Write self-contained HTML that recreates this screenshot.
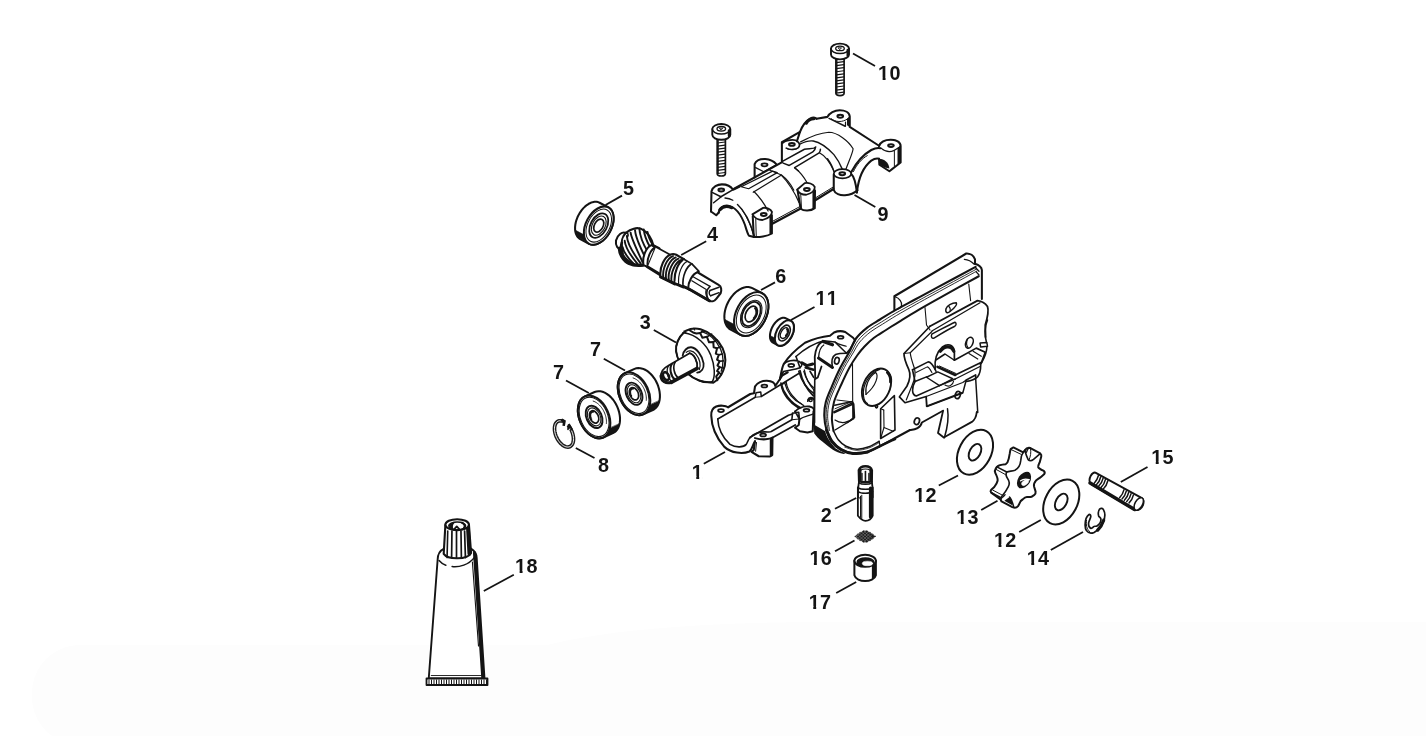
<!DOCTYPE html>
<html lang="en"><head><meta charset="utf-8"><title>Parts diagram</title>
<style>html,body{margin:0;padding:0;background:#fff}body{width:1426px;height:736px;overflow:hidden;position:relative}svg{display:block;position:absolute;left:0;top:0;will-change:transform;filter:blur(0.38px)}.band{position:absolute;left:32px;top:645px;width:1400px;height:100px;background:#fdfdfd;border-radius:48px 0 0 48px}.band2{position:absolute;left:520px;top:622px;width:920px;height:70px;background:#fdfdfd;border-radius:300px 0 0 0/40px 0 0 0}text{font-family:"Liberation Sans",Arial,Helvetica,sans-serif;font-weight:bold;font-size:19.8px;font-kerning:none;letter-spacing:0.3px;fill:#141414}</style></head><body><div class="band"></div><div class="band2"></div>
<svg width="1426" height="736" viewBox="0 0 1426 736">
<g fill="none" stroke="#141414" stroke-width="1.7" stroke-linecap="round" stroke-linejoin="round">
<path d="M835.9,57.6 L835.9,93.1 Q835.9,95.6 840,95.6 Q844.1,95.6 844.1,93.1 L844.1,57.6" fill="#fff" stroke="#141414" stroke-width="1.7" />
<path d="M836.1999999999999,62.6 L843.8000000000001,61.6" fill="none" stroke="#141414" stroke-width="1.25" />
<path d="M836.1999999999999,65.65 L843.8000000000001,64.65" fill="none" stroke="#141414" stroke-width="1.25" />
<path d="M836.1999999999999,68.7 L843.8000000000001,67.7" fill="none" stroke="#141414" stroke-width="1.25" />
<path d="M836.1999999999999,71.75 L843.8000000000001,70.75" fill="none" stroke="#141414" stroke-width="1.25" />
<path d="M836.1999999999999,74.8 L843.8000000000001,73.8" fill="none" stroke="#141414" stroke-width="1.25" />
<path d="M836.1999999999999,77.85 L843.8000000000001,76.85" fill="none" stroke="#141414" stroke-width="1.25" />
<path d="M836.1999999999999,80.9 L843.8000000000001,79.9" fill="none" stroke="#141414" stroke-width="1.25" />
<path d="M836.1999999999999,83.95 L843.8000000000001,82.95" fill="none" stroke="#141414" stroke-width="1.25" />
<path d="M836.1999999999999,87.0 L843.8000000000001,86.0" fill="none" stroke="#141414" stroke-width="1.25" />
<path d="M836.1999999999999,90.05 L843.8000000000001,89.05" fill="none" stroke="#141414" stroke-width="1.25" />
<path d="M836.1999999999999,93.1 L843.8000000000001,92.1" fill="none" stroke="#141414" stroke-width="1.25" />
<path d="M836.8,59.6 L836.8,92.6" fill="none" stroke="#141414" stroke-width="1.4" />
<path d="M831.0,48.6 A9.0,5.0 0 0 1 849.0,48.6 L849.0,54.4 A9.0,5.0 0 0 1 831.0,54.4 Z" fill="#fff" stroke="#141414" stroke-width="1.9" />
<path d="M831.0,48.6 A9.0,5.0 0 0 0 849.0,48.6" fill="none" stroke="#141414" stroke-width="1.5" />
<path d="M847.8,50.1 L847.8,55.6" fill="none" stroke="#141414" stroke-width="2.6" />
<ellipse cx="840.00" cy="48.40" rx="4.30" ry="2.30" transform="rotate(0 840.00 48.40)" fill="none" stroke="#141414" stroke-width="1.3" />
<path d="M838.5,47.800000000000004 L841.5,47.800000000000004 L840,49.5 Z" fill="none" stroke="#141414" stroke-width="0.9" />
<path d="M717.1999999999999,138 L717.1999999999999,173.5 Q717.1999999999999,176.0 721.3,176.0 Q725.4,176.0 725.4,173.5 L725.4,138" fill="#fff" stroke="#141414" stroke-width="1.7" />
<path d="M717.4999999999999,143.0 L725.1,142.0" fill="none" stroke="#141414" stroke-width="1.25" />
<path d="M717.4999999999999,146.05 L725.1,145.05" fill="none" stroke="#141414" stroke-width="1.25" />
<path d="M717.4999999999999,149.1 L725.1,148.1" fill="none" stroke="#141414" stroke-width="1.25" />
<path d="M717.4999999999999,152.15 L725.1,151.15" fill="none" stroke="#141414" stroke-width="1.25" />
<path d="M717.4999999999999,155.2 L725.1,154.2" fill="none" stroke="#141414" stroke-width="1.25" />
<path d="M717.4999999999999,158.25 L725.1,157.25" fill="none" stroke="#141414" stroke-width="1.25" />
<path d="M717.4999999999999,161.3 L725.1,160.3" fill="none" stroke="#141414" stroke-width="1.25" />
<path d="M717.4999999999999,164.35 L725.1,163.35" fill="none" stroke="#141414" stroke-width="1.25" />
<path d="M717.4999999999999,167.4 L725.1,166.4" fill="none" stroke="#141414" stroke-width="1.25" />
<path d="M717.4999999999999,170.45 L725.1,169.45" fill="none" stroke="#141414" stroke-width="1.25" />
<path d="M717.4999999999999,173.5 L725.1,172.5" fill="none" stroke="#141414" stroke-width="1.25" />
<path d="M718.0999999999999,140 L718.0999999999999,173.0" fill="none" stroke="#141414" stroke-width="1.4" />
<path d="M712.3,129 A9.0,5.0 0 0 1 730.3,129 L730.3,134.8 A9.0,5.0 0 0 1 712.3,134.8 Z" fill="#fff" stroke="#141414" stroke-width="1.9" />
<path d="M712.3,129 A9.0,5.0 0 0 0 730.3,129" fill="none" stroke="#141414" stroke-width="1.5" />
<path d="M729.0999999999999,130.5 L729.0999999999999,136.0" fill="none" stroke="#141414" stroke-width="2.6" />
<ellipse cx="721.30" cy="128.80" rx="4.30" ry="2.30" transform="rotate(0 721.30 128.80)" fill="none" stroke="#141414" stroke-width="1.3" />
<path d="M719.8,128.2 L722.8,128.2 L721.3,129.9 Z" fill="none" stroke="#141414" stroke-width="0.9" />
<path d="M 781.88,161.25 L 781.88,142.25 L 800.00,131.88 L 796.88,141.25" fill="none" stroke="#141414" stroke-width="2.05" />
<path d="M 800.00,131.88 C 801.88,126.88 805.62,121.25 810.00,118.75 C 812.50,117.25 815.25,117.25 816.50,118.75" fill="none" stroke="#141414" stroke-width="2.05" />
<path d="M 806.25,123.12 C 807.75,120.62 810.62,118.75 813.75,118.75" fill="none" stroke="#141414" stroke-width="3.2" />
<ellipse cx="791.88" cy="144.38" rx="2.88" ry="1.44" transform="rotate(0 791.88 144.38)" fill="none" stroke="#141414" stroke-width="1.9"/>
<path d="M 782.75,143.12 C 785.00,139.75 795.00,139.00 797.25,141.25 C 800.00,143.12 800.00,145.62 798.50,147.50 C 796.25,149.75 790.00,150.25 786.25,148.12" fill="none" stroke="#141414" stroke-width="1.7" />
<path d="M 787.50,149.00 C 791.25,150.25 795.62,149.75 798.12,148.12" fill="none" stroke="#141414" stroke-width="1.0" />
<path d="M 816.50,118.75 L 827.50,116.88 C 829.38,113.12 834.38,110.25 839.75,110.25 C 845.00,110.25 849.38,112.50 849.75,116.50 L 849.75,126.88 L 879.00,145.75" fill="none" stroke="#141414" stroke-width="2.05" />
<ellipse cx="840.25" cy="116.25" rx="2.88" ry="1.44" transform="rotate(0 840.25 116.25)" fill="none" stroke="#141414" stroke-width="1.9"/>
<path d="M 847.00,118.75 L 849.75,116.00 L 849.75,126.88 L 847.00,125.25 Z" fill="#141414" stroke="none"/>
<path d="M 829.00,118.38 L 845.25,126.25" fill="none" stroke="#141414" stroke-width="1.4" />
<path d="M 845.50,122.00 L 845.50,126.00" fill="none" stroke="#141414" stroke-width="1.2" />
<path d="M 831.25,118.75 C 835.00,122.25 842.50,122.75 847.75,118.75" fill="none" stroke="#141414" stroke-width="1.0" />
<path d="M 879.00,146.00 C 880.62,141.88 885.62,139.75 890.62,139.75 C 896.25,139.75 900.62,142.25 900.62,146.00 L 900.62,162.50 L 889.38,171.25 L 879.38,164.75 L 879.00,158.75" fill="none" stroke="#141414" stroke-width="2.05" />
<ellipse cx="891.00" cy="145.62" rx="2.88" ry="1.44" transform="rotate(0 891.00 145.62)" fill="none" stroke="#141414" stroke-width="1.9"/>
<path d="M 897.50,148.12 L 900.62,145.62 L 900.62,162.50 L 897.50,165.00 Z" fill="#141414" stroke="none"/>
<path d="M 881.00,148.12 C 885.00,151.50 890.00,152.75 894.38,150.25 L 900.00,146.88" fill="none" stroke="#141414" stroke-width="1.2" />
<path d="M 894.38,150.25 L 894.38,167.50" fill="none" stroke="#141414" stroke-width="1.0" />
<path d="M 879.00,158.75 C 883.75,158.50 889.00,162.50 889.38,168.50 L 884.75,167.50 L 879.50,164.38 Z" fill="#141414" stroke="none"/>
<path d="M 856.88,192.50 C 858.12,181.25 862.50,167.50 871.25,160.62 C 874.38,158.50 876.88,158.12 879.00,158.75" fill="none" stroke="#141414" stroke-width="2.05" />
<path d="M 851.00,172.50 C 855.00,165.00 862.50,155.00 871.25,150.00 C 875.00,148.12 877.50,147.50 880.50,148.25" fill="none" stroke="#141414" stroke-width="2.05" />
<path d="M 853.50,171.50 C 856.50,165.00 861.50,158.75 867.25,155.62" fill="none" stroke="#141414" stroke-width="1.0" />
<path d="M 800.62,141.88 C 808.75,137.50 821.25,132.75 828.75,132.25 C 837.50,132.25 848.75,141.25 853.12,148.75 C 852.50,153.75 848.75,161.25 846.00,169.00" fill="none" stroke="#141414" stroke-width="1.2" />
<path d="M 799.79,144.23 C 804.45,141.87 809.36,140.40 813.29,140.99 C 819.18,142.12 826.54,146.78 833.91,154.64 C 837.83,159.54 840.78,165.43 842.50,169.61" fill="none" stroke="#141414" stroke-width="1.4" />
<path d="M 827.50,158.75 C 830.62,163.12 833.12,168.12 834.00,171.88" fill="none" stroke="#141414" stroke-width="1.3" />
<ellipse cx="842.50" cy="173.75" rx="8.75" ry="4.62" transform="rotate(0 842.50 173.75)" fill="#fff" stroke="#141414" stroke-width="1.6"/>
<ellipse cx="842.25" cy="173.75" rx="2.88" ry="1.44" transform="rotate(0 842.25 173.75)" fill="none" stroke="#141414" stroke-width="1.9"/>
<path d="M 833.75,174.38 L 833.75,190.00 C 835.00,193.75 840.00,195.62 845.00,195.25 C 851.25,194.75 855.00,192.50 857.50,190.25" fill="none" stroke="#141414" stroke-width="2.05" />
<path d="M 851.25,174.00 C 853.75,176.25 855.62,181.25 856.88,192.50" fill="none" stroke="#141414" stroke-width="2.05" />
<path d="M 734.13,188.75 L 782.17,162.04" fill="none" stroke="#141414" stroke-width="2.05" />
<path d="M 741.20,186.77 L 772.64,171.09 L 777.23,172.64 L 748.61,188.75 Z" fill="none" stroke="#141414" stroke-width="1.2" />
<path d="M 753.21,192.28 L 781.47,174.97" fill="none" stroke="#141414" stroke-width="1.3" />
<path d="M 769.46,170.03 L 781.47,174.97 C 785.71,178.15 790.65,183.80 793.83,190.16" fill="none" stroke="#141414" stroke-width="1.2" />
<path d="M 782.85,161.12 L 804.45,149.24 C 807.40,148.25 811.33,148.99 813.78,148.16 C 814.76,147.76 815.35,147.27 815.65,146.93 C 815.55,148.50 815.01,149.97 812.80,151.94 L 789.24,165.43 L 783.10,163.08" fill="none" stroke="#141414" stroke-width="1.5" />
<path d="M 794.64,167.64 L 819.18,152.92 C 819.92,151.94 820.41,150.71 820.41,149.24" fill="none" stroke="#141414" stroke-width="1.5" />
<path d="M 794.64,167.64 L 798.56,171.08" fill="none" stroke="#141414" stroke-width="1.3" />
<path d="M 819.42,152.77 C 824.09,155.13 829.98,162.49 833.91,171.08" fill="none" stroke="#141414" stroke-width="1.3" />
<path d="M 794.89,167.91 C 799.84,171.79 804.78,178.15 807.26,183.10" fill="none" stroke="#141414" stroke-width="1.2" />
<path d="M 754.62,177.45 L 754.62,164.02 C 756.03,160.49 760.27,158.93 765.22,159.08 C 770.16,159.43 773.70,161.20 776.52,164.38" fill="none" stroke="#141414" stroke-width="2.05" />
<path d="M 755.68,167.55 L 763.80,171.79 L 776.17,164.73" fill="none" stroke="#141414" stroke-width="1.3" />
<ellipse cx="764.51" cy="164.87" rx="2.97" ry="1.48" transform="rotate(0 764.51 164.87)" fill="none" stroke="#141414" stroke-width="1.9"/>
<path d="M 711.00,211.50 L 711.50,191.25 C 712.50,186.88 717.50,184.38 721.88,184.38 C 726.88,184.38 731.25,186.88 733.00,189.75 L 739.75,186.50" fill="none" stroke="#141414" stroke-width="2.05" />
<ellipse cx="721.25" cy="190.00" rx="2.88" ry="1.44" transform="rotate(0 721.25 190.00)" fill="none" stroke="#141414" stroke-width="1.9"/>
<path d="M 712.62,192.62 L 720.88,196.75 L 732.25,190.12" fill="none" stroke="#141414" stroke-width="1.5" />
<path d="M 720.88,197.00 L 713.62,202.75" fill="none" stroke="#141414" stroke-width="1.5" />
<path d="M 711.00,211.50 L 716.25,215.25 L 718.75,212.50" fill="none" stroke="#141414" stroke-width="2.05" />
<path d="M 737.50,204.50 C 743.75,210.00 750.00,221.25 754.38,236.25" fill="none" stroke="#141414" stroke-width="1.5" />
<path d="M 725.00,198.00 C 728.12,198.25 730.62,199.00 732.88,200.25" fill="none" stroke="#141414" stroke-width="1.3" />
<path d="M 741.25,208.75 C 746.88,216.25 751.25,226.25 753.50,235.25" fill="none" stroke="#141414" stroke-width="1.0" />
<path d="M 718.75,212.75 C 718.75,208.12 723.12,205.00 728.12,205.62 C 735.00,206.88 741.25,215.00 745.00,225.00 C 746.50,230.00 747.50,233.75 749.00,235.75 L 754.00,237.00" fill="none" stroke="#141414" stroke-width="2.0" />
<path d="M 720.00,209.75 C 722.50,206.50 726.88,205.62 731.88,207.75" fill="none" stroke="#141414" stroke-width="3.0" />
<path d="M 752.38,214.38 L 763.12,207.88 C 766.25,207.25 770.62,209.00 772.00,211.88 C 771.88,215.62 769.38,218.12 762.50,220.00 C 758.75,220.00 755.00,218.75 752.38,214.38 Z" fill="#fff" stroke="#141414" stroke-width="1.8" />
<ellipse cx="763.75" cy="214.50" rx="2.88" ry="1.44" transform="rotate(0 763.75 214.50)" fill="none" stroke="#141414" stroke-width="1.9"/>
<path d="M 752.75,216.25 L 753.75,236.88 C 758.75,237.50 767.50,236.25 771.88,233.50 L 771.88,215.25" fill="none" stroke="#141414" stroke-width="2.05" />
<path d="M 755.75,218.75 L 756.25,236.25" fill="none" stroke="#141414" stroke-width="1.0" />
<path d="M 770.75,217.50 L 770.75,233.12" fill="none" stroke="#141414" stroke-width="2.6" />
<path d="M 754.00,191.50 C 758.75,196.25 764.38,203.75 768.12,211.00" fill="none" stroke="#141414" stroke-width="1.2" />
<path d="M 772.25,223.75 L 800.25,208.75" fill="none" stroke="#141414" stroke-width="2.2" />
<path d="M 772.25,221.50 L 800.00,206.50" fill="none" stroke="#141414" stroke-width="1.0" />
<path d="M 781.88,175.88 C 787.50,181.25 795.00,192.50 799.00,202.50" fill="none" stroke="#141414" stroke-width="1.2" />
<path d="M 797.00,189.75 L 804.75,183.12 C 808.12,182.25 813.12,183.75 814.75,186.88 C 815.00,190.62 812.50,193.12 806.25,194.75 C 801.88,194.75 798.75,193.12 797.00,189.75 Z" fill="#fff" stroke="#141414" stroke-width="1.8" />
<ellipse cx="806.88" cy="189.50" rx="2.88" ry="1.44" transform="rotate(0 806.88 189.50)" fill="none" stroke="#141414" stroke-width="1.9"/>
<path d="M 797.75,191.25 L 800.62,208.75 C 803.75,211.25 810.62,211.25 814.75,208.12 L 815.00,190.62" fill="none" stroke="#141414" stroke-width="2.05" />
<path d="M 800.75,194.00 L 801.50,208.75" fill="none" stroke="#141414" stroke-width="1.0" />
<path d="M 813.75,192.50 L 813.75,207.75" fill="none" stroke="#141414" stroke-width="2.6" />
<path d="M 815.25,200.25 L 833.50,189.00" fill="none" stroke="#141414" stroke-width="2.2" />
<path d="M 815.25,198.00 L 833.25,187.00" fill="none" stroke="#141414" stroke-width="1.0" />
<path d="M 728.12,407.25 C 725.62,405.62 720.00,405.00 716.25,406.50 C 712.50,408.12 711.00,411.88 711.25,415.62 C 711.50,425.00 715.00,436.25 724.38,446.88 C 731.25,453.12 742.50,454.38 749.38,451.50 C 751.88,450.00 752.50,445.00 755.00,441.25" fill="none" stroke="#141414" stroke-width="2.05" />
<path d="M 717.75,419.00 C 718.12,427.50 721.88,436.88 730.00,444.38 C 736.25,448.12 743.75,447.25 746.25,444.38 C 747.50,442.50 748.12,439.38 750.25,437.50" fill="none" stroke="#141414" stroke-width="1.6" />
<ellipse cx="721.00" cy="410.62" rx="2.88" ry="1.44" transform="rotate(0 721.00 410.62)" fill="none" stroke="#141414" stroke-width="1.8"/>
<path d="M 728.12,407.25 L 750.25,394.00 L 754.00,393.25 L 755.00,386.50 C 756.88,382.50 762.50,380.62 766.88,380.75 C 771.88,381.00 775.00,383.12 775.25,386.00 L 782.50,375.25 L 787.75,372.25" fill="none" stroke="#141414" stroke-width="2.05" />
<path d="M 717.75,419.00 L 755.25,397.25 L 756.00,392.75 L 760.75,392.00 L 761.25,396.50 L 800.00,372.75" fill="none" stroke="#141414" stroke-width="1.5" />
<path d="M 755.25,397.25 L 760.75,396.75" fill="none" stroke="#141414" stroke-width="1.2" />
<ellipse cx="764.38" cy="386.00" rx="2.88" ry="1.44" transform="rotate(0 764.38 386.00)" fill="none" stroke="#141414" stroke-width="1.8"/>
<path d="M 750.25,437.50 C 753.75,433.75 760.00,431.88 765.00,431.88 C 768.12,431.88 770.25,432.50 771.25,431.50 L 791.88,419.75 L 792.50,413.12 L 798.75,412.25 L 799.38,419.00 L 795.00,411.25" fill="none" stroke="#141414" stroke-width="1.6" />
<path d="M 795.00,411.50 C 798.75,407.50 805.00,406.00 809.38,406.50 C 812.50,407.00 814.00,408.50 814.00,410.62" fill="none" stroke="#141414" stroke-width="1.8" />
<path d="M 791.88,419.75 L 799.00,419.00" fill="none" stroke="#141414" stroke-width="1.2" />
<path d="M 749.75,437.50 L 788.50,415.25 L 792.50,414.00" fill="none" stroke="#141414" stroke-width="1.8" />
<ellipse cx="763.12" cy="435.00" rx="2.88" ry="1.44" transform="rotate(0 763.12 435.00)" fill="none" stroke="#141414" stroke-width="1.8"/>
<ellipse cx="806.50" cy="410.25" rx="2.88" ry="1.44" transform="rotate(0 806.50 410.25)" fill="none" stroke="#141414" stroke-width="1.8"/>
<path d="M 772.75,437.50 L 795.25,425.00" fill="none" stroke="#141414" stroke-width="1.8" />
<path d="M 755.00,441.25 L 753.75,450.00 L 751.50,451.88 L 758.75,456.25 L 770.00,456.50 L 772.25,455.00 L 772.50,437.50 C 770.00,439.38 762.50,440.25 755.00,438.12" fill="none" stroke="#141414" stroke-width="2.05" />
<path d="M 771.25,440.00 L 771.25,455.00" fill="none" stroke="#141414" stroke-width="3.0" />
<path d="M 756.50,442.50 L 755.62,451.25" fill="none" stroke="#141414" stroke-width="1.0" />
<path d="M 799.38,419.38 L 798.75,425.00 L 795.00,427.75 L 800.00,431.25 L 807.50,432.50 L 812.75,431.25 L 813.50,411.25" fill="none" stroke="#141414" stroke-width="2.05" />
<path d="M 799.38,419.38 C 803.75,416.25 810.00,415.62 813.50,413.75" fill="none" stroke="#141414" stroke-width="1.4" />
<path d="M 781.25,384.75 C 782.50,393.75 790.00,403.12 799.00,408.12" fill="none" stroke="#141414" stroke-width="1.8" />
<path d="M 786.25,382.50 C 787.50,391.25 795.00,400.62 803.75,405.62" fill="none" stroke="#141414" stroke-width="1.3" />
<path d="M 781.25,384.75 L 786.25,382.50" fill="none" stroke="#141414" stroke-width="1.3" />
<path d="M 800.00,370.62 C 801.88,380.00 806.25,388.75 813.12,395.62" fill="none" stroke="#141414" stroke-width="1.8" />
<path d="M 804.38,370.00 C 805.62,377.50 809.38,385.00 814.00,390.00" fill="none" stroke="#141414" stroke-width="1.3" />
<path d="M 807.75,401.25 C 808.50,398.12 811.88,397.50 813.50,399.38" fill="none" stroke="#141414" stroke-width="1.6" />
<ellipse cx="810.62" cy="400.25" rx="1.50" ry="1.25" transform="rotate(0 810.62 400.25)" fill="none" stroke="#141414" stroke-width="1.4"/>
<path d="M 814.00,390.00 L 814.38,425.00" fill="none" stroke="#141414" stroke-width="1.5" />
<path d="M 813.90,424.43 L 825.27,431.34 C 826.11,435.38 827.80,439.59 835.38,448.18 C 838.75,450.54 842.12,452.06 845.91,452.90 L 843.80,454.08 C 839.59,453.24 835.38,451.55 832.85,449.70 C 826.96,445.49 816.85,437.91 814.15,433.27 Z" fill="#141414" stroke="none"/>
<path d="M975.60,266.90 C969.32,270.28 948.00,281.77 937.90,287.20 C927.80,292.63 922.30,295.57 915.00,299.50 C907.70,303.43 899.93,307.47 894.10,310.80 C888.27,314.13 884.48,316.70 880.00,319.50 C875.52,322.30 871.20,324.43 867.20,327.60 C863.20,330.77 858.95,334.52 856.00,338.50 C853.05,342.48 852.12,346.62 849.50,351.50 C846.88,356.38 843.23,362.00 840.30,367.80 C837.37,373.60 834.32,380.60 831.90,386.30 C829.48,392.00 827.07,397.05 825.80,402.00 C824.53,406.95 824.18,411.33 824.30,416.00 C824.42,420.67 825.22,425.75 826.50,430.00 C827.78,434.25 829.58,438.25 832.00,441.50 C834.42,444.75 837.50,447.50 841.00,449.50 C844.50,451.50 848.58,453.08 853.00,453.50 C857.42,453.92 863.00,453.22 867.50,452.00 C872.00,450.78 877.92,447.17 880.00,446.20 L910,430" fill="none" stroke="#141414" stroke-width="2.1" />
<path d="M978.75,276.25 C972.62,279.64 951.96,291.04 942.00,296.60 C932.04,302.16 926.17,305.40 919.00,309.60 C911.83,313.80 904.50,318.40 899.00,321.80 C893.50,325.20 890.17,327.33 886.00,330.00 C881.83,332.67 877.58,335.05 874.00,337.80 C870.42,340.55 867.25,343.63 864.50,346.50 C861.75,349.37 860.00,351.50 857.50,355.00 C855.00,358.50 852.20,362.58 849.50,367.50 C846.80,372.42 843.88,378.75 841.30,384.50 C838.72,390.25 835.57,396.42 834.00,402.00 C832.43,407.58 831.98,413.17 831.90,418.00 C831.82,422.83 833.23,428.83 833.50,431.00" fill="none" stroke="#141414" stroke-width="2.0" />
<path d="M833.50,431.00 C834.33,432.50 836.42,437.45 838.50,440.00 C840.58,442.55 842.92,444.77 846.00,446.30 C849.08,447.83 853.17,449.12 857.00,449.20 C860.83,449.28 865.30,448.12 869.00,446.80 C872.70,445.48 877.50,442.22 879.20,441.30" fill="none" stroke="#141414" stroke-width="1.6" />
<path d="M976.36,269.14 C970.11,272.53 948.95,283.99 938.88,289.46 C928.82,294.92 923.23,297.93 915.96,301.92 C908.69,305.92 901.03,310.09 895.28,313.44 C889.52,316.79 885.85,319.25 881.44,322.02 C877.03,324.79 872.73,326.98 868.83,330.05 C864.93,333.11 860.94,336.70 858.04,340.42 C855.14,344.14 854.01,347.79 851.42,352.34 C848.83,356.89 845.39,362.14 842.51,367.73 C839.63,373.32 836.61,380.16 834.16,385.87 C831.70,391.58 829.11,396.90 827.77,402.00 C826.43,407.10 826.06,411.77 826.12,416.48 C826.19,421.19 827.84,427.95 828.18,430.24" fill="none" stroke="#141414" stroke-width="0.9" />
<path d="M976.99,271.01 C970.77,274.40 949.74,285.85 939.70,291.34 C929.67,296.82 924.00,299.89 916.76,303.94 C909.52,307.99 901.94,312.28 896.26,315.64 C890.57,319.00 886.98,321.38 882.64,324.12 C878.30,326.86 874.01,329.10 870.19,332.09 C866.38,335.07 862.60,338.53 859.74,342.02 C856.88,345.51 855.59,348.77 853.02,353.04 C850.45,357.31 847.18,362.26 844.35,367.67 C841.52,373.08 838.53,379.79 836.04,385.51 C833.55,391.23 830.81,396.77 829.41,402.00 C828.01,407.23 827.62,412.14 827.64,416.88 C827.67,421.62 829.26,428.18 829.58,430.44" fill="none" stroke="#141414" stroke-width="0.9" />
<path d="M844.75,447.10 C846.62,447.63 852.02,450.11 856.00,450.27 C859.98,450.44 864.73,449.39 868.62,448.10 C872.52,446.81 877.60,443.45 879.40,442.52" fill="none" stroke="#141414" stroke-width="0.8" />
<path d="M879.2,441.3 L880,446.2" fill="none" stroke="#141414" stroke-width="1.2" />
<path d="M826.50,430.00 C827.42,431.92 829.58,438.25 832.00,441.50 C834.42,444.75 837.50,447.50 841.00,449.50 C844.50,451.50 848.58,453.08 853.00,453.50 C857.42,453.92 865.08,452.25 867.50,452.00" fill="none" stroke="#141414" stroke-width="3.0" />
<path d="M867.50,452.00 C869.58,451.03 877.92,447.17 880.00,446.20 L895,439" fill="none" stroke="#141414" stroke-width="2.5" />
<path d="M 894.38,310.00 L 894.38,296.25 L 966.25,253.50 C 970.00,253.25 973.75,255.62 975.00,259.38 L 975.00,264.00" fill="none" stroke="#141414" stroke-width="2.05" />
<path d="M 895.00,296.75 C 899.38,298.12 902.25,301.88 901.50,305.62 C 901.00,308.12 898.12,309.38 895.00,310.00" fill="none" stroke="#141414" stroke-width="1.3" />
<path d="M 964.38,259.38 C 968.12,259.75 971.88,261.88 974.00,264.00" fill="none" stroke="#141414" stroke-width="1.3" />
<path d="M 975.00,263.75 C 978.75,265.00 981.50,266.88 981.88,270.00 L 981.88,299.00" fill="none" stroke="#141414" stroke-width="2.05" />
<path d="M 975.38,267.50 L 979.00,271.25 M 976.25,271.88 L 979.00,275.00" fill="none" stroke="#141414" stroke-width="1.3" />
<path d="M 925.00,307.50 L 926.50,325.00 L 930.00,330.00" fill="none" stroke="#141414" stroke-width="1.1" />
<path d="M 968.75,284.00 L 970.62,300.62" fill="none" stroke="#141414" stroke-width="1.1" />
<path d="M 946.00,308.75 C 946.88,305.62 951.88,302.75 956.25,302.75 C 957.75,304.75 954.38,308.12 950.00,311.50 C 947.75,313.50 945.00,313.12 946.00,308.75 Z" fill="none" stroke="#141414" stroke-width="1.5" />
<path d="M 948.75,306.25 C 950.00,307.50 950.62,309.38 950.00,311.25" fill="none" stroke="#141414" stroke-width="1.1" />
<path d="M 930.00,326.25 L 977.50,300.62 C 981.25,301.00 985.62,303.75 987.50,306.50 C 988.75,310.00 987.50,317.50 985.25,325.00 L 985.62,337.00" fill="none" stroke="#141414" stroke-width="1.8" />
<path d="M 931.88,331.00 L 980.00,302.75" fill="none" stroke="#141414" stroke-width="1.3" />
<path d="M 931.88,334.00 C 937.50,331.25 948.75,325.00 955.00,322.25 C 956.88,323.12 956.25,325.62 954.38,326.50 C 948.75,329.00 940.00,334.38 934.00,338.12 C 931.88,338.75 930.62,336.88 931.88,334.00 Z" fill="none" stroke="#141414" stroke-width="1.4" />
<path d="M 930.00,326.25 L 904.00,353.50 C 903.75,357.50 905.62,362.50 908.75,369.38 C 911.25,375.00 910.00,380.00 906.88,386.25 L 899.38,396.88 L 905.00,402.75 L 926.25,396.50" fill="none" stroke="#141414" stroke-width="1.7" />
<path d="M 931.88,331.50 L 910.25,352.75 C 910.62,357.50 912.25,361.88 914.38,368.12 C 916.00,373.75 915.00,378.75 912.25,385.00 L 906.25,400.00" fill="none" stroke="#141414" stroke-width="1.2" />
<path d="M 904.00,353.50 L 910.25,352.75" fill="none" stroke="#141414" stroke-width="1.1" />
<path d="M 987.50,320.00 C 984.38,327.50 984.38,335.00 986.50,342.50" fill="none" stroke="#141414" stroke-width="1.5" />
<path d="M 980.00,343.12 L 986.88,342.50 L 987.50,346.25 L 980.62,346.88 Z" fill="none" stroke="#141414" stroke-width="1.5" />
<path d="M 986.88,346.88 C 986.88,353.75 983.75,358.75 980.75,364.38 C 980.75,370.00 980.00,373.75 977.50,376.88 C 975.00,379.38 970.00,381.00 966.75,381.38" fill="none" stroke="#141414" stroke-width="1.6" />
<ellipse cx="969.38" cy="342.75" rx="3.50" ry="5.75" transform="rotate(22 969.38 342.75)" fill="none" stroke="#141414" stroke-width="1.6"/>
<path d="M 967.50,338.75 C 966.25,341.88 966.50,345.62 968.12,347.75" fill="none" stroke="#141414" stroke-width="1.2" />
<path d="M 935.25,369.38 C 934.38,361.25 936.25,352.50 942.50,346.88 C 947.50,343.12 953.12,344.38 954.38,350.62 L 954.38,360.25 L 976.25,348.12 L 985.25,352.25 L 981.50,362.25 L 955.25,375.00" fill="none" stroke="#141414" stroke-width="1.7" />
<path d="M 940.25,351.25 C 944.38,345.62 951.25,345.00 953.75,351.25" fill="none" stroke="#141414" stroke-width="3.2" />
<path d="M 936.25,359.75 L 945.00,354.00 L 954.38,360.25" fill="none" stroke="#141414" stroke-width="1.5" />
<path d="M 937.50,366.88 L 955.25,375.00" fill="none" stroke="#141414" stroke-width="2.6" />
<path d="M 939.38,366.00 L 956.00,373.50" fill="none" stroke="#141414" stroke-width="1.0" />
<path d="M 969.00,353.50 L 977.75,359.00 M 973.12,351.25 L 981.25,356.25" fill="none" stroke="#141414" stroke-width="1.2" />
<path d="M 981.50,362.25 L 980.00,364.00" fill="none" stroke="#141414" stroke-width="1.4" />
<path d="M 955.25,379.00 L 980.00,366.50" fill="none" stroke="#141414" stroke-width="1.4" />
<path d="M 912.50,369.75 L 928.12,361.88 C 930.62,361.88 933.12,365.00 936.00,371.25" fill="none" stroke="#141414" stroke-width="1.6" />
<path d="M 912.50,369.75 L 915.00,381.50 L 926.50,376.88" fill="none" stroke="#141414" stroke-width="1.6" />
<path d="M 916.00,372.50 L 927.25,366.88 C 928.75,367.25 930.25,369.38 931.88,372.50" fill="none" stroke="#141414" stroke-width="1.1" />
<path d="M 926.50,377.25 L 937.75,371.88 L 952.75,378.75 L 939.50,385.62 Z" fill="none" stroke="#141414" stroke-width="1.4" />
<path d="M 915.00,381.50 C 911.88,386.88 911.25,395.00 916.25,396.00 L 939.50,385.62" fill="none" stroke="#141414" stroke-width="1.6" />
<path d="M 939.50,385.62 L 955.25,379.00" fill="none" stroke="#141414" stroke-width="1.5" />
<path d="M 945.00,385.00 C 948.75,387.50 953.12,385.00 953.50,381.25" fill="none" stroke="#141414" stroke-width="1.2" />
<ellipse cx="957.75" cy="395.00" rx="2.50" ry="3.75" transform="rotate(20 957.75 395.00)" fill="none" stroke="#141414" stroke-width="1.6"/>
<path d="M 926.25,396.50 L 926.88,406.50 L 962.75,393.12 L 966.25,380.00 L 975.62,375.00" fill="none" stroke="#141414" stroke-width="1.5" />
<path d="M 926.25,396.50 L 962.75,382.50 L 966.25,380.00" fill="none" stroke="#141414" stroke-width="1.3" />
<path d="M 975.62,375.00 L 975.62,377.75 L 977.75,412.50" fill="none" stroke="#141414" stroke-width="1.5" />
<ellipse cx="876.50" cy="387.25" rx="13.25" ry="19.75" transform="rotate(25 876.50 387.25)" fill="none" stroke="#141414" stroke-width="1.9"/>
<path d="M 879.75,369.38 C 870.00,372.50 861.88,385.00 863.50,396.25 C 864.00,400.00 865.62,402.50 867.50,403.50" fill="none" stroke="#141414" stroke-width="1.3" />
<path d="M 875.62,372.50 C 868.75,376.88 864.75,386.25 866.00,394.38" fill="none" stroke="#141414" stroke-width="1.2" />
<path d="M 875.62,372.50 C 878.75,375.00 876.88,385.00 866.00,394.38" fill="none" stroke="#141414" stroke-width="1.2" />
<path d="M 887.50,372.50 C 890.00,375.00 891.00,378.12 890.62,381.88" fill="none" stroke="#141414" stroke-width="3.0" />
<ellipse cx="876.50" cy="406.50" rx="1.00" ry="1.25" transform="rotate(0 876.50 406.50)" fill="none" stroke="#141414" stroke-width="1.4"/>
<path d="M 780.00,379.38 C 781.25,372.50 781.88,367.50 783.75,364.00 C 787.50,358.12 795.00,350.00 805.00,342.75 C 813.75,338.75 822.50,336.50 830.00,335.75 L 834.00,332.50 C 837.50,331.00 842.50,331.00 845.25,332.00 L 853.12,337.75 L 855.00,340.25" fill="none" stroke="#141414" stroke-width="2.05" />
<ellipse cx="840.62" cy="337.25" rx="2.88" ry="1.44" transform="rotate(0 840.62 337.25)" fill="none" stroke="#141414" stroke-width="1.8"/>
<path d="M 796.00,356.50 C 802.50,350.62 812.50,343.75 823.75,340.75 L 835.00,342.00 L 846.50,353.25 L 850.25,348.75 L 854.75,341.25" fill="none" stroke="#141414" stroke-width="1.6" />
<path d="M 835.00,342.00 C 838.75,345.00 842.50,345.00 846.25,346.25" fill="none" stroke="#141414" stroke-width="1.1" />
<path d="M 783.75,364.00 C 786.25,360.62 793.75,359.50 798.75,361.25 C 801.88,362.50 803.12,365.00 800.00,367.75 L 796.00,356.50" fill="none" stroke="#141414" stroke-width="1.6" />
<ellipse cx="791.25" cy="365.38" rx="2.88" ry="1.44" transform="rotate(0 791.25 365.38)" fill="none" stroke="#141414" stroke-width="1.8"/>
<path d="M 800.00,367.75 C 795.00,369.75 787.50,370.25 783.50,371.50 L 780.00,377.75" fill="none" stroke="#141414" stroke-width="1.6" />
<path d="M 821.88,341.88 C 818.12,343.75 815.62,348.75 814.75,356.88 L 815.25,379.00 L 817.75,377.50 L 821.50,366.50" fill="none" stroke="#141414" stroke-width="1.8" />
<path d="M 823.75,345.00 C 820.62,346.88 819.00,350.62 818.50,357.75" fill="none" stroke="#141414" stroke-width="1.3" />
<path d="M 818.50,358.00 L 832.50,367.50" fill="none" stroke="#141414" stroke-width="3.0" />
<path d="M 832.50,367.50 C 831.25,361.25 832.50,356.25 835.62,354.50 C 838.75,353.25 843.12,353.25 846.50,353.25" fill="none" stroke="#141414" stroke-width="1.6" />
<ellipse cx="836.88" cy="360.75" rx="2.25" ry="3.38" transform="rotate(15 836.88 360.75)" fill="none" stroke="#141414" stroke-width="1.6"/>
<path d="M 801.88,362.75 L 806.88,365.62 L 812.75,364.00" fill="none" stroke="#141414" stroke-width="3.0" />
<path d="M 805.62,367.50 L 813.50,369.75" fill="none" stroke="#141414" stroke-width="2.4" />
<path d="M 823.12,341.50 L 832.50,344.75" fill="none" stroke="#141414" stroke-width="3.2" />
<path d="M 810.00,371.25 L 813.75,377.50" fill="none" stroke="#141414" stroke-width="1.6" />
<path d="M 781.00,383.12 C 783.12,392.50 790.00,402.50 800.62,407.75" fill="none" stroke="#141414" stroke-width="1.8" />
<path d="M 785.00,383.75 C 786.88,391.25 792.50,399.38 801.25,403.75" fill="none" stroke="#141414" stroke-width="1.2" />
<path d="M 798.75,371.25 C 801.25,380.00 806.88,388.75 813.50,393.12" fill="none" stroke="#141414" stroke-width="1.5" />
<path d="M 803.75,371.25 C 805.62,378.12 810.00,385.00 814.38,388.12" fill="none" stroke="#141414" stroke-width="1.2" />
<path d="M 807.75,400.00 C 809.00,396.88 812.25,396.88 813.50,399.00" fill="none" stroke="#141414" stroke-width="1.5" />
<path d="M 814.75,379.00 L 814.50,422.50" fill="none" stroke="#141414" stroke-width="1.6" />
<path d="M 852.50,363.75 L 852.75,417.50" fill="none" stroke="#141414" stroke-width="1.1" />
<path d="M 834.75,405.25 L 852.50,401.50" fill="none" stroke="#141414" stroke-width="1.4" />
<path d="M 834.00,412.75 L 853.75,403.75 L 854.50,417.50 L 847.50,422.50" fill="none" stroke="#141414" stroke-width="1.5" />
<path d="M 836.88,400.00 L 852.50,401.88" fill="none" stroke="#141414" stroke-width="1.0" />
<path d="M 910.00,430.00 C 913.12,429.75 915.00,429.75 917.50,428.12 C 920.25,426.50 921.50,424.38 921.88,422.50 L 942.50,411.00" fill="none" stroke="#141414" stroke-width="1.9" />
<ellipse cx="916.88" cy="421.25" rx="2.50" ry="3.38" transform="rotate(20 916.88 421.25)" fill="none" stroke="#141414" stroke-width="1.7"/>
<path d="M 943.12,410.62 L 938.00,433.00 L 943.75,437.50 L 971.88,421.88 C 974.75,420.00 976.25,416.88 976.75,412.00" fill="none" stroke="#141414" stroke-width="1.8" />
<path d="M 947.50,408.75 C 948.75,416.25 947.50,427.50 944.38,437.75" fill="none" stroke="#141414" stroke-width="1.5" />
<path d="M 926.25,397.50 L 926.50,406.25 L 962.50,392.50" fill="none" stroke="#141414" stroke-width="1.4" />
<path d="M 880.62,408.75 L 894.38,395.62 L 895.00,430.00 L 880.62,438.50 Z" fill="none" stroke="#141414" stroke-width="1.6" />
<path d="M 883.75,410.00 L 884.00,427.50 L 893.12,431.25" fill="none" stroke="#141414" stroke-width="1.1" />
<path d="M 880.62,408.75 L 883.75,410.00 M 884.00,427.50 L 880.62,438.50" fill="none" stroke="#141414" stroke-width="1.1" />
<ellipse cx="876.50" cy="406.50" rx="1.12" ry="1.38" transform="rotate(0 876.50 406.50)" fill="none" stroke="#141414" stroke-width="1.4"/>
<path d="M 833.75,411.88 L 853.12,402.50 L 853.75,418.75 L 835.00,430.00" fill="none" stroke="#141414" stroke-width="1.4" />
<path d="M 835.00,408.75 L 852.50,401.25" fill="none" stroke="#141414" stroke-width="0.9" />
<path d="M 835.00,420.00 C 841.25,424.38 848.75,422.75 853.50,417.75" fill="none" stroke="#141414" stroke-width="1.2" />
<path d="M 626.00,233.00 C 622.25,231.00 617.25,235.12 616.00,240.50 C 615.25,245.75 617.75,249.75 621.88,249.25" fill="#fff" stroke="#141414" stroke-width="2.05" />
<path d="M 622.50,248.88 C 620.62,242.00 622.50,235.75 626.25,232.62 C 630.62,228.88 636.88,227.00 641.25,228.88 C 647.50,231.75 651.88,238.88 653.75,246.38 L 643.50,265.12 C 637.50,265.75 630.00,264.50 625.62,261.75 C 622.50,258.88 621.88,253.25 622.50,248.88 Z" fill="#fff" stroke="#141414" stroke-width="2.05" />
<path d="M 630.62,232.62 C 631.25,238.25 636.25,248.25 642.50,262.00" fill="none" stroke="#141414" stroke-width="1.9" />
<path d="M 635.00,230.12 C 635.62,237.62 640.00,247.00 645.00,257.00" fill="none" stroke="#141414" stroke-width="1.9" />
<path d="M 639.38,229.00 C 640.00,236.38 643.75,245.12 647.50,251.38" fill="none" stroke="#141414" stroke-width="1.9" />
<path d="M 643.75,229.38 C 644.38,235.75 647.50,242.62 650.00,247.00" fill="none" stroke="#141414" stroke-width="1.9" />
<path d="M 647.50,231.88 C 648.12,236.38 650.62,241.38 652.62,244.50" fill="none" stroke="#141414" stroke-width="1.9" />
<path d="M 626.88,236.06 C 627.19,242.62 633.12,253.25 640.62,263.38" fill="none" stroke="#141414" stroke-width="1.9" />
<path d="M 624.69,240.75 C 625.31,247.00 630.62,255.75 638.12,264.62" fill="none" stroke="#141414" stroke-width="1.9" />
<path d="M 622.38,246.69 C 623.44,251.38 628.12,258.56 635.00,265.25" fill="none" stroke="#141414" stroke-width="1.9" />
<path d="M 619.38,248.25 C 620.00,254.50 623.12,260.12 628.75,263.25 C 633.12,265.44 638.12,265.75 642.81,265.12" fill="none" stroke="#141414" stroke-width="3.4" />
<path d="M 621.25,251.38 C 623.44,257.00 628.12,262.00 634.38,264.19" fill="none" stroke="#141414" stroke-width="2.2" />
<path d="M 621.88,242.62 C 620.62,245.75 620.94,249.50 622.50,253.25" fill="none" stroke="#141414" stroke-width="2.6" />
<path d="M 625.62,232.50 C 628.12,232.94 628.75,234.50 627.50,237.00" fill="none" stroke="#141414" stroke-width="1.6" />
<path d="M 651.88,244.88 C 646.88,246.75 641.88,255.75 643.50,265.12 L 647.75,267.00 L 656.00,247.00 Z" fill="#fff" stroke="#141414" stroke-width="2.05" />
<path d="M 656.00,247.00 C 651.00,248.88 646.25,258.00 647.75,267.00" fill="none" stroke="#141414" stroke-width="1.9" />
<path d="M 652.50,245.25 L 659.00,248.50" fill="none" stroke="#141414" stroke-width="3.0" />
<path d="M 656.00,247.00 L 670.25,254.75 L 661.00,275.12 L 647.75,267.00" fill="#fff" stroke="#141414" stroke-width="1.7" />
<path d="M 647.75,267.00 L 661.00,275.12" fill="none" stroke="#141414" stroke-width="3.0" />
<path d="M 670.25,254.75 C 672.50,253.50 674.38,253.88 676.25,254.75 L 684.00,259.25 C 678.75,261.75 673.50,272.00 674.75,283.50 L 660.62,277.00 C 659.00,267.00 665.00,256.38 670.25,254.75 Z" fill="#fff" stroke="#141414" stroke-width="2.05" />
<path d="M 673.00,256.06 C 667.75,257.69 661.75,268.31 663.38,278.31" fill="none" stroke="#141414" stroke-width="1.9" />
<path d="M 675.75,257.38 C 670.50,259.00 664.50,269.62 666.12,279.62" fill="none" stroke="#141414" stroke-width="1.9" />
<path d="M 678.50,258.69 C 673.25,260.31 667.25,270.94 668.88,280.94" fill="none" stroke="#141414" stroke-width="1.9" />
<path d="M 681.25,260.00 C 676.00,261.62 670.00,272.25 671.62,282.25" fill="none" stroke="#141414" stroke-width="1.9" />
<path d="M 660.62,277.00 L 674.75,283.88" fill="none" stroke="#141414" stroke-width="3.0" />
<path d="M 684.00,259.25 L 691.88,263.88 C 686.88,266.00 681.88,276.00 683.12,286.38 L 674.75,283.50" fill="#fff" stroke="#141414" stroke-width="1.7" />
<path d="M 687.25,261.38 C 682.25,263.50 677.50,273.50 678.75,284.50" fill="none" stroke="#141414" stroke-width="1.2" />
<path d="M 674.75,283.50 L 683.12,287.00" fill="none" stroke="#141414" stroke-width="2.8" />
<path d="M 691.88,263.88 L 699.00,271.38 C 695.00,272.62 690.00,280.75 690.00,288.88 L 683.12,286.38" fill="#fff" stroke="#141414" stroke-width="1.7" />
<path d="M 683.12,286.38 L 690.00,289.50" fill="none" stroke="#141414" stroke-width="2.8" />
<path d="M 697.50,272.25 L 719.00,285.12 C 721.25,286.38 721.88,290.12 720.62,293.25 L 716.25,298.88 C 714.38,301.38 711.25,302.00 708.75,300.50 L 688.12,288.50 C 688.12,282.00 692.50,273.88 697.50,272.25 Z" fill="#fff" stroke="#141414" stroke-width="2.05" />
<path d="M 688.12,288.50 L 709.38,300.75" fill="none" stroke="#141414" stroke-width="2.8" />
<path d="M 693.50,277.00 L 710.00,286.38" fill="none" stroke="#141414" stroke-width="1.3" />
<path d="M 691.88,280.75 L 706.25,289.50 C 705.62,292.00 706.00,295.75 707.50,298.25" fill="none" stroke="#141414" stroke-width="1.3" />
<path d="M 710.00,286.38 C 706.25,289.50 705.62,295.75 708.75,300.12" fill="none" stroke="#141414" stroke-width="1.5" />
<path d="M 710.00,290.50 L 719.00,287.25" fill="none" stroke="#141414" stroke-width="1.4" />
<path d="M 710.62,295.75 L 719.00,292.62" fill="none" stroke="#141414" stroke-width="1.4" />
<path d="M 710.00,290.50 C 708.75,292.00 709.00,294.50 710.62,295.75" fill="none" stroke="#141414" stroke-width="1.4" />
<path d="M 683.27,332.78 C 686.22,329.16 693.80,327.22 700.54,329.24 C 708.97,331.69 717.81,338.85 722.61,348.11 C 725.98,355.70 725.98,364.12 723.12,370.86 C 720.93,376.33 717.39,380.29 713.35,382.65 L 700.54,380.97 Z" fill="#fff" stroke="#141414" stroke-width="2.05" />
<path d="M 701.39,331.43 C 709.39,333.96 716.55,340.70 720.59,349.12 C 723.46,355.70 723.62,364.12 721.18,371.28" fill="none" stroke="#141414" stroke-width="1.3" />
<path d="M 683.70,332.78 C 678.64,337.16 675.27,344.74 676.11,351.48 C 676.96,358.22 682.01,367.49 687.91,373.81 C 693.80,379.28 703.91,383.49 712.17,381.98 C 715.54,376.76 714.86,365.80 710.65,354.85 C 706.44,344.74 697.17,334.64 683.70,332.78 Z" fill="#fff" stroke="#141414" stroke-width="1.5" />
<path d="M 683.70,332.78 C 678.64,337.16 675.27,344.74 676.11,351.48 C 676.96,358.22 682.01,367.49 687.91,373.81 C 693.80,379.28 703.91,383.49 712.17,381.98" fill="none" stroke="#141414" stroke-width="2.0" />
<path d="M 689.59,330.26 L 693.80,332.78 L 696.42,333.46 L 700.21,333.04 L 702.31,337.67 L 706.95,336.83 L 709.05,342.30 L 713.26,341.88 L 713.68,347.36 L 717.05,348.20 L 715.79,353.67 L 718.74,354.94 L 717.05,359.57 L 719.58,361.26 L 717.48,365.47 L 719.58,367.15 L 717.05,370.94 L 719.16,372.63 L 716.21,376.42 L 717.39,380.29" fill="none" stroke="#141414" stroke-width="2.0" />
<path d="M 700.21,333.04 L 703.91,330.76 M 706.95,336.83 L 711.66,334.13 M 713.26,341.88 L 717.05,340.03 M 717.05,348.20 L 720.59,346.77 M 718.74,354.94 L 722.28,354.01 M 719.58,361.26 L 723.29,360.92 M 719.58,367.15 L 722.78,367.99 M 719.16,372.63 L 721.27,374.57" fill="none" stroke="#141414" stroke-width="1.7" />
<path d="M 684.12,330.85 L 685.80,332.53 M 693.80,328.32 L 694.65,330.00" fill="none" stroke="#141414" stroke-width="1.3" />
<path d="M 682.68,355.53 C 683.53,350.64 687.07,347.10 691.11,347.27 C 696.50,347.69 702.40,355.70 703.58,363.28 C 704.08,368.50 701.55,372.21 697.17,372.71" fill="none" stroke="#141414" stroke-width="1.8" />
<path d="M 686.22,352.33 C 688.58,349.97 692.54,350.22 695.91,354.18 C 699.28,358.39 700.88,364.54 699.36,369.60" fill="none" stroke="#141414" stroke-width="1.2" />
<path d="M 689.59,353.17 L 668.11,365.64 C 663.48,367.91 660.11,372.54 660.95,377.60 C 661.79,381.98 666.17,383.66 671.06,382.23 L 697.17,368.16 C 698.18,361.59 693.97,354.18 689.59,353.17 Z" fill="#fff" stroke="#141414" stroke-width="1.7" />
<path d="M 671.23,382.32 L 697.17,368.33" fill="none" stroke="#141414" stroke-width="3.6" />
<path d="M 660.95,375.91 C 661.37,381.39 666.01,383.92 671.23,382.32" fill="none" stroke="#141414" stroke-width="3.0" />
<path d="M 689.59,353.17 C 693.97,354.18 698.18,361.59 697.17,368.16" fill="none" stroke="#141414" stroke-width="1.6" />
<path d="M 672.07,363.70 C 669.21,367.49 670.22,375.91 675.27,380.12" fill="none" stroke="#141414" stroke-width="2.0" />
<path d="M 675.27,362.01 C 672.58,365.80 673.59,374.23 678.47,378.27" fill="none" stroke="#141414" stroke-width="1.6" />
<path d="M 668.70,365.64 C 666.01,369.17 666.85,377.60 671.73,381.81" fill="none" stroke="#141414" stroke-width="1.3" />
<ellipse cx="666.01" cy="376.08" rx="2.70" ry="4.21" transform="rotate(-28 666.01 376.08)" fill="none" stroke="#141414" stroke-width="2.6"/>
<path d="M580.25,239.09 L578.86,238.15 L577.65,236.92 L576.66,235.41 L575.89,233.65 L575.37,231.68 L575.09,229.52 L575.07,227.21 L575.30,224.80 L575.78,222.31 L576.50,219.81 L577.45,217.32 L578.62,214.90 L579.98,212.57 L581.51,210.39 L583.18,208.39 L584.97,206.61 L586.84,205.07 L588.77,203.79 L590.71,202.82 L592.65,202.15 L594.53,201.80 L596.34,201.78 L598.03,202.09 L599.59,202.72 L608.42,207.41 L609.81,208.35 L611.02,209.59 L612.01,211.10 L612.78,212.85 L613.30,214.83 L613.58,216.99 L613.60,219.29 L613.37,221.71 L612.89,224.19 L612.17,226.70 L611.22,229.18 L610.05,231.61 L608.69,233.93 L607.16,236.11 L605.49,238.11 L603.70,239.90 L601.83,241.44 L599.90,242.71 L597.96,243.69 L596.03,244.36 L594.14,244.70 L592.33,244.72 L590.64,244.42 L589.08,243.79 Z" fill="#fff" stroke="#141414" stroke-width="2.05" />
<path d="M577.80,237.10 L577.62,236.88 L577.45,236.65 L577.28,236.42 L577.12,236.18 L576.96,235.93 L576.81,235.68 L576.67,235.42 L576.53,235.15 L576.39,234.88 L576.27,234.60 L576.14,234.31 L576.03,234.02 L575.92,233.73 L575.82,233.42 L575.72,233.11 L575.63,232.80 L575.55,232.48 L575.47,232.16 L575.40,231.83 L575.33,231.49 L575.27,231.15 L575.22,230.81 L575.18,230.46 L575.14,230.11 L583.97,234.80 L584.01,235.16 L584.05,235.50 L584.10,235.85 L584.16,236.19 L584.23,236.52 L584.30,236.85 L584.38,237.18 L584.46,237.49 L584.55,237.81 L584.65,238.12 L584.75,238.42 L584.86,238.72 L584.97,239.01 L585.09,239.29 L585.22,239.57 L585.36,239.85 L585.49,240.11 L585.64,240.37 L585.79,240.63 L585.95,240.88 L586.11,241.12 L586.28,241.35 L586.45,241.58 L586.63,241.79 Z" fill="#141414" stroke="#141414" stroke-width="0.6" />
<ellipse cx="598.75" cy="225.60" rx="12.80" ry="20.60" transform="rotate(28 598.75 225.60)" fill="#fff" stroke="#141414" stroke-width="2.05" />
<ellipse cx="598.75" cy="225.60" rx="11.01" ry="17.72" transform="rotate(28 598.75 225.60)" fill="none" stroke="#141414" stroke-width="1.0" />
<ellipse cx="598.75" cy="225.60" rx="8.19" ry="13.18" transform="rotate(28 598.75 225.60)" fill="none" stroke="#141414" stroke-width="1.8" />
<ellipse cx="598.75" cy="225.60" rx="6.40" ry="10.30" transform="rotate(28 598.75 225.60)" fill="none" stroke="#141414" stroke-width="1.1" />
<ellipse cx="598.75" cy="225.60" rx="4.35" ry="7.00" transform="rotate(28 598.75 225.60)" fill="none" stroke="#141414" stroke-width="1.7" />
<path d="M730.66,329.64 L729.02,328.56 L727.59,327.14 L726.40,325.40 L725.47,323.39 L724.81,321.13 L724.44,318.65 L724.36,316.01 L724.57,313.25 L725.07,310.42 L725.86,307.56 L726.91,304.72 L728.21,301.95 L729.74,299.31 L731.47,296.82 L733.37,294.55 L735.41,292.52 L737.56,290.77 L739.77,289.33 L742.01,288.22 L744.24,287.47 L746.43,287.09 L748.53,287.07 L750.52,287.44 L752.34,288.17 L762.09,293.26 L763.73,294.35 L765.16,295.77 L766.35,297.50 L767.29,299.52 L767.94,301.78 L768.32,304.25 L768.40,306.89 L768.18,309.65 L767.68,312.48 L766.90,315.35 L765.84,318.18 L764.54,320.95 L763.01,323.60 L761.28,326.08 L759.38,328.36 L757.34,330.39 L755.20,332.14 L752.98,333.58 L750.74,334.68 L748.51,335.43 L746.32,335.82 L744.22,335.83 L742.24,335.47 L740.41,334.74 Z" fill="#fff" stroke="#141414" stroke-width="2.05" />
<path d="M727.77,327.34 L727.55,327.09 L727.35,326.83 L727.14,326.56 L726.95,326.29 L726.76,326.00 L726.58,325.71 L726.40,325.41 L726.24,325.11 L726.07,324.79 L725.92,324.47 L725.77,324.15 L725.63,323.81 L725.50,323.47 L725.37,323.12 L725.25,322.77 L725.14,322.41 L725.03,322.04 L724.94,321.67 L724.85,321.30 L724.76,320.91 L724.69,320.53 L724.62,320.13 L724.56,319.73 L724.51,319.33 L734.26,324.43 L734.31,324.83 L734.37,325.23 L734.44,325.62 L734.51,326.01 L734.59,326.39 L734.69,326.77 L734.78,327.14 L734.89,327.51 L735.00,327.87 L735.12,328.22 L735.25,328.57 L735.38,328.91 L735.52,329.24 L735.67,329.57 L735.82,329.89 L735.98,330.20 L736.15,330.51 L736.33,330.81 L736.51,331.10 L736.70,331.38 L736.89,331.66 L737.09,331.93 L737.30,332.19 L737.52,332.44 Z" fill="#141414" stroke="#141414" stroke-width="0.6" />
<ellipse cx="751.25" cy="314.00" rx="15.00" ry="23.40" transform="rotate(27.6 751.25 314.00)" fill="#fff" stroke="#141414" stroke-width="2.05" />
<ellipse cx="751.25" cy="314.00" rx="13.05" ry="20.36" transform="rotate(27.6 751.25 314.00)" fill="none" stroke="#141414" stroke-width="1.0" />
<ellipse cx="751.25" cy="314.00" rx="9.45" ry="14.74" transform="rotate(27.6 751.25 314.00)" fill="none" stroke="#141414" stroke-width="1.1" />
<ellipse cx="751.25" cy="314.00" rx="8.25" ry="12.87" transform="rotate(27.6 751.25 314.00)" fill="none" stroke="#141414" stroke-width="1.8" />
<ellipse cx="751.25" cy="314.00" rx="5.40" ry="8.42" transform="rotate(27.6 751.25 314.00)" fill="none" stroke="#141414" stroke-width="1.7" />
<path d="M755.15,308.24 L755.38,308.48 L755.59,308.75 L755.78,309.05 L755.95,309.38 L756.09,309.73 L756.20,310.10 L756.29,310.49 L756.35,310.91 L756.39,311.33 L756.40,311.78 L756.38,312.23 L756.33,312.69 L756.26,313.17 L756.16,313.64 L756.03,314.12 L755.88,314.59 L755.71,315.07 L755.51,315.53 L755.28,315.99 L755.04,316.44 L754.78,316.88 L754.50,317.30 L754.20,317.70 L753.89,318.09" fill="none" stroke="#141414" stroke-width="2.2" />
<path d="M773.07,342.70 L772.20,342.11 L771.46,341.32 L770.86,340.34 L770.40,339.19 L770.10,337.90 L769.97,336.48 L770.00,334.96 L770.19,333.36 L770.54,331.71 L771.04,330.04 L771.69,328.38 L772.48,326.76 L773.39,325.20 L774.40,323.74 L775.50,322.39 L776.67,321.17 L777.88,320.12 L779.13,319.25 L780.38,318.56 L781.62,318.09 L782.83,317.82 L783.97,317.78 L785.05,317.95 L786.02,318.33 L790.88,320.92 L791.75,321.51 L792.49,322.30 L793.09,323.28 L793.54,324.43 L793.84,325.72 L793.98,327.14 L793.95,328.66 L793.76,330.26 L793.41,331.91 L792.90,333.57 L792.25,335.23 L791.46,336.86 L790.56,338.41 L789.55,339.88 L788.45,341.23 L787.28,342.44 L786.06,343.50 L784.81,344.37 L783.56,345.05 L782.32,345.53 L781.12,345.79 L779.97,345.84 L778.90,345.67 L777.92,345.28 Z" fill="#fff" stroke="#141414" stroke-width="2.05" />
<path d="M771.94,341.87 L771.77,341.69 L771.61,341.51 L771.46,341.32 L771.31,341.11 L771.17,340.90 L771.04,340.68 L770.91,340.46 L770.80,340.22 L770.69,339.97 L770.58,339.72 L770.49,339.46 L770.40,339.19 L770.32,338.92 L770.25,338.63 L770.19,338.34 L770.13,338.05 L770.08,337.75 L770.04,337.44 L770.01,337.12 L769.98,336.80 L769.97,336.48 L769.96,336.15 L769.96,335.81 L769.97,335.47 L774.82,338.06 L774.82,338.39 L774.82,338.73 L774.82,339.06 L774.84,339.39 L774.86,339.71 L774.90,340.02 L774.94,340.33 L774.99,340.63 L775.04,340.93 L775.11,341.22 L775.18,341.50 L775.26,341.77 L775.35,342.04 L775.44,342.30 L775.54,342.56 L775.65,342.80 L775.77,343.04 L775.90,343.27 L776.03,343.48 L776.17,343.70 L776.31,343.90 L776.47,344.09 L776.63,344.27 L776.79,344.45 Z" fill="#141414" stroke="#141414" stroke-width="0.6" />
<ellipse cx="784.40" cy="333.10" rx="8.00" ry="13.80" transform="rotate(28 784.40 333.10)" fill="#fff" stroke="#141414" stroke-width="2.05" />
<ellipse cx="784.40" cy="333.10" rx="4.96" ry="8.56" transform="rotate(28 784.40 333.10)" fill="none" stroke="#141414" stroke-width="1.6" />
<ellipse cx="784.40" cy="333.10" rx="3.36" ry="5.80" transform="rotate(28 784.40 333.10)" fill="none" stroke="#141414" stroke-width="1.4" />
<path d="M786.99,329.24 L787.12,329.40 L787.25,329.57 L787.35,329.76 L787.45,329.97 L787.52,330.20 L787.58,330.44 L787.62,330.69 L787.65,330.96 L787.66,331.24 L787.65,331.53 L787.62,331.83 L787.58,332.13 L787.52,332.44 L787.45,332.76 L787.35,333.07 L787.24,333.39 L787.12,333.70 L786.98,334.01 L786.83,334.32 L786.67,334.62 L786.49,334.91 L786.31,335.19 L786.11,335.46 L785.90,335.72" fill="none" stroke="#141414" stroke-width="2.0" />
<path d="M634.53,368.88 L636.36,368.28 L638.32,368.04 L640.37,368.16 L642.47,368.65 L644.60,369.49 L646.71,370.68 L648.77,372.18 L650.74,373.98 L652.59,376.05 L654.29,378.34 L655.80,380.83 L657.11,383.46 L658.19,386.19 L659.02,388.98 L659.59,391.78 L659.89,394.54 L659.91,397.21 L659.65,399.75 L659.12,402.11 L658.32,404.25 L657.28,406.14 L656.00,407.75 L654.51,409.04 L652.84,409.99 L643.15,414.30 L641.32,414.91 L639.36,415.15 L637.32,415.03 L635.21,414.54 L633.09,413.70 L630.98,412.51 L628.92,411.01 L626.95,409.21 L625.10,407.14 L623.40,404.85 L621.88,402.36 L620.57,399.73 L619.49,396.99 L618.66,394.21 L618.09,391.41 L617.79,388.65 L617.77,385.98 L618.03,383.44 L618.56,381.08 L619.36,378.94 L620.41,377.05 L621.68,375.44 L623.17,374.15 L624.85,373.20 Z" fill="#fff" stroke="#141414" stroke-width="2.05" />
<path d="M659.47,400.71 L659.36,401.19 L659.25,401.65 L659.12,402.11 L658.98,402.55 L658.83,402.99 L658.67,403.42 L658.50,403.84 L658.32,404.25 L658.13,404.65 L657.93,405.04 L657.73,405.42 L657.51,405.78 L657.28,406.14 L657.04,406.49 L656.79,406.82 L656.54,407.14 L656.27,407.45 L656.00,407.75 L655.72,408.03 L655.43,408.30 L655.13,408.56 L654.82,408.80 L654.51,409.04 L654.19,409.26 L644.51,413.57 L644.83,413.35 L645.14,413.12 L645.45,412.87 L645.74,412.61 L646.03,412.34 L646.32,412.06 L646.59,411.76 L646.85,411.45 L647.11,411.13 L647.36,410.80 L647.59,410.45 L647.82,410.10 L648.04,409.73 L648.25,409.35 L648.45,408.96 L648.64,408.56 L648.82,408.15 L648.99,407.73 L649.15,407.30 L649.30,406.86 L649.44,406.42 L649.56,405.96 L649.68,405.50 L649.79,405.02 Z" fill="#141414" stroke="#141414" stroke-width="0.6" />
<ellipse cx="634.00" cy="393.75" rx="14.70" ry="22.50" transform="rotate(-24 634.00 393.75)" fill="#fff" stroke="#141414" stroke-width="2.05" />
<ellipse cx="634.00" cy="393.75" rx="13.52" ry="20.70" transform="rotate(-24 634.00 393.75)" fill="none" stroke="#141414" stroke-width="1.1" />
<ellipse cx="634.00" cy="393.75" rx="7.64" ry="11.70" transform="rotate(-24 634.00 393.75)" fill="none" stroke="#141414" stroke-width="1.9" />
<ellipse cx="634.00" cy="393.75" rx="6.17" ry="9.45" transform="rotate(-24 634.00 393.75)" fill="none" stroke="#141414" stroke-width="1.1" />
<ellipse cx="634.00" cy="393.75" rx="4.26" ry="6.52" transform="rotate(-24 634.00 393.75)" fill="none" stroke="#141414" stroke-width="1.7" />
<path d="M633.08,377.95 L633.98,378.27 L634.87,378.68 L635.77,379.16 L636.65,379.72 L637.52,380.36 L638.37,381.07 L639.20,381.84 L640.00,382.68 L640.77,383.57 L641.50,384.52 L642.19,385.52 L642.84,386.56 L643.45,387.64 L644.00,388.75 L644.50,389.89 L644.94,391.05 L645.33,392.22 L645.66,393.40 L645.92,394.59 L646.13,395.76 L646.26,396.93 L646.34,398.08 L646.35,399.21 L646.29,400.31" fill="none" stroke="#141414" stroke-width="0.9" />
<path d="M631.21,396.02 L630.98,395.61 L630.78,395.18 L630.60,394.75 L630.44,394.31 L630.32,393.86 L630.22,393.41 L630.15,392.97 L630.11,392.53 L630.10,392.10 L630.12,391.68 L630.17,391.28 L630.25,390.89 L630.35,390.53 L630.49,390.20 L630.65,389.89 L630.83,389.61 L631.04,389.36 L631.28,389.14 L631.53,388.96 L631.80,388.82 L632.09,388.71 L632.40,388.64 L632.71,388.61 L633.04,388.62" fill="none" stroke="#141414" stroke-width="2.0" />
<path d="M594.63,392.03 L596.46,391.43 L598.42,391.19 L600.47,391.31 L602.57,391.80 L604.70,392.64 L606.81,393.83 L608.87,395.33 L610.84,397.13 L612.69,399.20 L614.39,401.49 L615.90,403.98 L617.21,406.61 L618.29,409.34 L619.12,412.13 L619.69,414.93 L619.99,417.69 L620.01,420.36 L619.75,422.90 L619.22,425.26 L618.42,427.40 L617.38,429.29 L616.10,430.90 L614.61,432.19 L612.94,433.14 L603.25,437.45 L601.42,438.06 L599.46,438.30 L597.42,438.18 L595.31,437.69 L593.19,436.85 L591.08,435.66 L589.02,434.16 L587.05,432.36 L585.20,430.29 L583.50,428.00 L581.98,425.51 L580.67,422.88 L579.59,420.14 L578.76,417.36 L578.19,414.56 L577.89,411.80 L577.87,409.13 L578.13,406.59 L578.66,404.23 L579.46,402.09 L580.51,400.20 L581.78,398.59 L583.27,397.30 L584.95,396.35 Z" fill="#fff" stroke="#141414" stroke-width="2.05" />
<path d="M619.57,423.86 L619.46,424.34 L619.35,424.80 L619.22,425.26 L619.08,425.70 L618.93,426.14 L618.77,426.57 L618.60,426.99 L618.42,427.40 L618.23,427.80 L618.03,428.19 L617.83,428.57 L617.61,428.93 L617.38,429.29 L617.14,429.64 L616.89,429.97 L616.64,430.29 L616.37,430.60 L616.10,430.90 L615.82,431.18 L615.53,431.45 L615.23,431.71 L614.92,431.95 L614.61,432.19 L614.29,432.41 L604.61,436.72 L604.93,436.50 L605.24,436.27 L605.55,436.02 L605.84,435.76 L606.13,435.49 L606.42,435.21 L606.69,434.91 L606.95,434.60 L607.21,434.28 L607.46,433.95 L607.69,433.60 L607.92,433.25 L608.14,432.88 L608.35,432.50 L608.55,432.11 L608.74,431.71 L608.92,431.30 L609.09,430.88 L609.25,430.45 L609.40,430.01 L609.54,429.57 L609.66,429.11 L609.78,428.65 L609.89,428.17 Z" fill="#141414" stroke="#141414" stroke-width="0.6" />
<ellipse cx="594.10" cy="416.90" rx="14.70" ry="22.50" transform="rotate(-24 594.10 416.90)" fill="#fff" stroke="#141414" stroke-width="2.05" />
<ellipse cx="594.10" cy="416.90" rx="13.52" ry="20.70" transform="rotate(-24 594.10 416.90)" fill="none" stroke="#141414" stroke-width="1.1" />
<ellipse cx="594.10" cy="416.90" rx="7.64" ry="11.70" transform="rotate(-24 594.10 416.90)" fill="none" stroke="#141414" stroke-width="1.9" />
<ellipse cx="594.10" cy="416.90" rx="6.17" ry="9.45" transform="rotate(-24 594.10 416.90)" fill="none" stroke="#141414" stroke-width="1.1" />
<ellipse cx="594.10" cy="416.90" rx="4.26" ry="6.52" transform="rotate(-24 594.10 416.90)" fill="none" stroke="#141414" stroke-width="1.7" />
<path d="M593.18,401.10 L594.08,401.42 L594.97,401.83 L595.87,402.31 L596.75,402.87 L597.62,403.51 L598.47,404.22 L599.30,404.99 L600.10,405.83 L600.87,406.72 L601.60,407.67 L602.29,408.67 L602.94,409.71 L603.55,410.79 L604.10,411.90 L604.60,413.04 L605.04,414.20 L605.43,415.37 L605.76,416.55 L606.02,417.74 L606.23,418.91 L606.36,420.08 L606.44,421.23 L606.45,422.36 L606.39,423.46" fill="none" stroke="#141414" stroke-width="0.9" />
<path d="M591.31,419.17 L591.08,418.76 L590.88,418.33 L590.70,417.90 L590.54,417.46 L590.42,417.01 L590.32,416.56 L590.25,416.12 L590.21,415.68 L590.20,415.25 L590.22,414.83 L590.27,414.43 L590.35,414.04 L590.45,413.68 L590.59,413.35 L590.75,413.04 L590.93,412.76 L591.14,412.51 L591.38,412.29 L591.63,412.11 L591.90,411.97 L592.19,411.86 L592.50,411.79 L592.81,411.76 L593.14,411.77" fill="none" stroke="#141414" stroke-width="2.0" />
<path d="M568.09,425.22 L569.08,426.46 L570.00,427.81 L570.84,429.25 L571.58,430.75 L572.21,432.30 L572.72,433.87 L573.11,435.44 L573.36,436.98 L573.49,438.49 L573.48,439.93 L573.33,441.28 L573.05,442.52 L572.64,443.65 L572.11,444.63 L571.46,445.46 L570.70,446.13 L569.85,446.62 L568.91,446.93 L567.91,447.05 L566.85,446.99 L565.75,446.73 L564.62,446.30 L563.48,445.68 L562.35,444.90 L561.25,443.96 L560.18,442.88 L559.17,441.67 L558.23,440.35 L557.37,438.93 L556.61,437.45 L555.95,435.91 L555.40,434.35 L554.98,432.77 L554.69,431.22 L554.53,429.70 L554.51,428.24 L554.62,426.87 L554.87,425.59 L555.24,424.43 L555.74,423.41 L556.36,422.54 L557.09,421.83 L557.92,421.29 L558.83,420.93 L559.82,420.76 L560.87,420.78 L561.96,420.98 L563.09,421.37" fill="none" stroke="#1c1c1c" stroke-width="3.7" stroke-linecap="butt"/>
<path d="M568.09,425.22 L569.08,426.46 L570.00,427.81 L570.84,429.25 L571.58,430.75 L572.21,432.30 L572.72,433.87 L573.11,435.44 L573.36,436.98 L573.49,438.49 L573.48,439.93 L573.33,441.28 L573.05,442.52 L572.64,443.65 L572.11,444.63 L571.46,445.46 L570.70,446.13 L569.85,446.62 L568.91,446.93 L567.91,447.05 L566.85,446.99 L565.75,446.73 L564.62,446.30 L563.48,445.68 L562.35,444.90 L561.25,443.96 L560.18,442.88 L559.17,441.67 L558.23,440.35 L557.37,438.93 L556.61,437.45 L555.95,435.91 L555.40,434.35 L554.98,432.77 L554.69,431.22 L554.53,429.70 L554.51,428.24 L554.62,426.87 L554.87,425.59 L555.24,424.43 L555.74,423.41 L556.36,422.54 L557.09,421.83 L557.92,421.29 L558.83,420.93 L559.82,420.76 L560.87,420.78 L561.96,420.98 L563.09,421.37" fill="none" stroke="#f4f4f4" stroke-width="1.0" stroke-linecap="butt"/>
<path d="M 560.51,420.41 L 562.09,418.52 L 565.88,420.41 L 564.93,426.09 L 562.41,425.78 L 562.72,422.94 Z" fill="#141414" stroke="none"/>
<path d="M 567.77,424.52 L 569.66,423.57 L 572.82,428.93 L 571.56,430.83 L 569.66,428.93 L 568.40,430.83 L 567.14,429.57 Z" fill="#141414" stroke="none"/>
<path d="M 569.66,428.93 L 568.40,430.83" fill="none" stroke="#fff" stroke-width="1.0" />
<path d="M 857.87,487.38 L 857.87,515.78 C 860.39,518.93 862.92,520.83 865.44,520.95 C 868.60,520.83 871.44,518.93 872.70,515.78 L 872.70,487.38" fill="#fff" stroke="#141414" stroke-width="1.8" />
<path d="M 870.49,488.01 L 870.49,517.04" fill="none" stroke="#141414" stroke-width="3.2" />
<path d="M 860.52,496.21 L 860.52,517.36 M 861.78,495.27 L 861.78,518.30" fill="none" stroke="#141414" stroke-width="1.0" />
<path d="M 860.52,508.83 L 860.52,499.87 C 860.52,498.29 859.45,497.34 858.18,497.03" fill="none" stroke="#141414" stroke-width="1.0" />
<path d="M 859.00,481.57 L 858.18,487.88 L 857.87,497.34 M 871.88,481.57 L 872.51,487.88 L 872.70,497.34" fill="none" stroke="#141414" stroke-width="1.8" />
<path d="M 859.00,482.83 C 861.65,484.72 869.23,484.72 871.88,482.83" fill="none" stroke="#141414" stroke-width="1.5" />
<path d="M 858.25,487.88 C 861.02,489.77 869.86,489.77 872.51,487.88" fill="none" stroke="#141414" stroke-width="1.5" />
<path d="M 857.99,491.66 C 861.02,493.87 869.86,493.87 872.64,491.66" fill="none" stroke="#141414" stroke-width="1.5" />
<path d="M 859.13,481.25 L 858.81,470.20 C 859.76,467.36 862.92,466.29 865.44,466.29 C 868.28,466.29 871.12,467.36 871.88,470.20 L 871.75,481.25 C 869.23,482.51 861.65,482.51 859.13,481.25 Z" fill="#fff" stroke="#141414" stroke-width="2.4" />
<path d="M 861.02,470.20 C 862.29,468.63 868.60,468.63 869.86,470.20" fill="none" stroke="#141414" stroke-width="1.2" />
<path d="M 865.44,471.47 L 865.44,480.93" fill="none" stroke="#141414" stroke-width="1.6" />
<path d="M 861.97,473.36 L 861.97,480.30 M 868.91,473.36 L 868.91,480.30" fill="none" stroke="#141414" stroke-width="1.4" />
<path d="M 860.39,469.89 L 860.39,480.93 M 870.49,469.89 L 870.49,480.93" fill="none" stroke="#141414" stroke-width="2.2" />
<clipPath id="meshclip"><path d="M 875.54,536.48 L 873.20,537.62 L 873.20,538.81 L 870.93,539.32 L 870.55,540.58 L 868.47,540.71 L 867.27,542.16 L 865.13,541.91 L 862.98,542.16 L 861.78,540.71 L 859.70,540.58 L 859.32,539.32 L 857.05,538.81 L 857.05,537.62 L 854.71,536.48 L 857.05,535.34 L 857.05,534.14 L 859.32,533.64 L 859.70,532.38 L 861.78,532.25 L 862.98,530.80 L 865.13,531.05 L 867.27,530.80 L 868.47,532.25 L 870.55,532.38 L 870.93,533.64 L 873.20,534.14 L 873.20,535.34 Z"/></clipPath>
<path d="M 875.54,536.48 L 873.20,537.62 L 873.20,538.81 L 870.93,539.32 L 870.55,540.58 L 868.47,540.71 L 867.27,542.16 L 865.13,541.91 L 862.98,542.16 L 861.78,540.71 L 859.70,540.58 L 859.32,539.32 L 857.05,538.81 L 857.05,537.62 L 854.71,536.48 L 857.05,535.34 L 857.05,534.14 L 859.32,533.64 L 859.70,532.38 L 861.78,532.25 L 862.98,530.80 L 865.13,531.05 L 867.27,530.80 L 868.47,532.25 L 870.55,532.38 L 870.93,533.64 L 873.20,534.14 L 873.20,535.34 Z" fill="#1e1e1e" stroke="#141414" stroke-width="0.6" />
<g clip-path="url(#meshclip)">
<path d="M 847.14,538.75 L 857.24,529.60" fill="none" stroke="#8a8a8a" stroke-width="0.5" />
<path d="M 847.14,534.21 L 857.24,543.36" fill="none" stroke="#8a8a8a" stroke-width="0.5" />
<path d="M 849.98,539.26 L 860.08,530.11" fill="none" stroke="#8a8a8a" stroke-width="0.5" />
<path d="M 849.98,533.70 L 860.08,542.85" fill="none" stroke="#8a8a8a" stroke-width="0.5" />
<path d="M 852.82,539.76 L 862.92,530.61" fill="none" stroke="#8a8a8a" stroke-width="0.5" />
<path d="M 852.82,533.20 L 862.92,542.35" fill="none" stroke="#8a8a8a" stroke-width="0.5" />
<path d="M 855.66,540.27 L 865.76,531.12" fill="none" stroke="#8a8a8a" stroke-width="0.5" />
<path d="M 855.66,532.69 L 865.76,541.84" fill="none" stroke="#8a8a8a" stroke-width="0.5" />
<path d="M 858.50,540.77 L 868.60,531.62" fill="none" stroke="#8a8a8a" stroke-width="0.5" />
<path d="M 858.50,532.19 L 868.60,541.34" fill="none" stroke="#8a8a8a" stroke-width="0.5" />
<path d="M 861.34,541.28 L 871.44,532.12" fill="none" stroke="#8a8a8a" stroke-width="0.5" />
<path d="M 861.34,531.68 L 871.44,540.83" fill="none" stroke="#8a8a8a" stroke-width="0.5" />
<path d="M 864.18,541.78 L 874.28,532.63" fill="none" stroke="#8a8a8a" stroke-width="0.5" />
<path d="M 864.18,531.18 L 874.28,540.33" fill="none" stroke="#8a8a8a" stroke-width="0.5" />
</g>
<path d="M 854.40,560.78 L 854.40,575.29 C 855.34,579.08 860.39,581.10 865.13,581.10 C 869.86,581.10 874.91,579.08 875.86,575.29 L 875.86,560.78 Z" fill="#fff" stroke="#141414" stroke-width="2.0" />
<path d="M 871.88,563.93 L 875.86,561.41 L 875.86,575.29 C 875.22,577.82 873.65,579.08 871.88,579.84 Z" fill="#141414" stroke="none"/>
<ellipse cx="865.13" cy="560.78" rx="10.73" ry="6.00" transform="rotate(0 865.13 560.78)" fill="#fff" stroke="#141414" stroke-width="2.0"/>
<ellipse cx="865.44" cy="562.17" rx="8.33" ry="4.17" transform="rotate(0 865.44 562.17)" fill="#141414" stroke="#141414" stroke-width="1.4"/>
<ellipse cx="867.46" cy="563.43" rx="5.18" ry="2.27" transform="rotate(0 867.46 563.43)" fill="#fff" stroke="#fff" stroke-width="0.5"/>
<ellipse cx="975.00" cy="452.25" rx="16.00" ry="24.00" transform="rotate(28 975.00 452.25)" fill="#fff" stroke="#141414" stroke-width="2.0" />
<ellipse cx="975.00" cy="452.25" rx="5.40" ry="9.00" transform="rotate(28 975.00 452.25)" fill="none" stroke="#141414" stroke-width="1.9" />
<ellipse cx="1061.25" cy="502.00" rx="16.00" ry="24.00" transform="rotate(28 1061.25 502.00)" fill="#fff" stroke="#141414" stroke-width="2.0" />
<ellipse cx="1061.25" cy="502.00" rx="5.40" ry="9.00" transform="rotate(28 1061.25 502.00)" fill="none" stroke="#141414" stroke-width="1.9" />
<path d="M 1010.82,448.78 L 1013.40,447.43 L 1023.21,452.39 L 1024.76,450.33 C 1025.79,448.78 1027.34,447.74 1028.89,447.74 L 1030.43,448.05 L 1040.24,453.42 C 1041.28,454.46 1041.59,455.49 1041.28,456.52 L 1039.73,462.20 C 1038.70,464.27 1037.87,465.82 1038.18,467.05 C 1038.70,468.40 1040.76,469.43 1043.86,470.98 C 1044.89,472.01 1044.89,473.25 1044.07,474.28 L 1041.28,476.66 C 1039.21,478.41 1037.15,479.24 1036.11,480.48 C 1034.57,482.34 1033.53,484.40 1034.05,486.47 L 1035.60,491.63 C 1035.80,493.18 1035.39,494.21 1034.36,494.93 L 1031.47,496.79 C 1029.92,497.41 1028.37,497.00 1026.82,497.00 C 1025.27,497.00 1023.72,498.34 1022.69,499.38 L 1020.62,501.13 C 1019.59,502.99 1019.08,504.54 1018.04,506.09 C 1017.01,507.33 1015.46,507.95 1013.91,507.64 L 1012.36,507.12 L 1001.52,501.44 L 1000.49,499.38 L 991.20,492.66 C 990.37,491.63 990.37,490.80 990.99,490.08 L 994.29,486.98 C 995.84,484.92 997.18,482.85 997.60,480.79 C 998.01,478.21 996.36,475.11 995.33,473.04 C 994.50,471.49 994.81,469.95 995.84,468.40 L 996.88,466.85 C 998.42,465.30 1001.52,464.58 1005.65,464.27 C 1007.20,463.23 1008.23,461.17 1008.75,458.59 L 1009.78,453.42 C 1009.99,451.36 1010.30,449.81 1010.82,448.78 Z" fill="#fff" stroke="#141414" stroke-width="2.0" />
<path d="M 1011.02,449.50 L 1021.35,454.46" fill="none" stroke="#141414" stroke-width="1.0" />
<path d="M 1023.21,452.39 C 1021.66,454.46 1020.93,457.04 1020.73,460.65 C 1020.32,464.78 1018.56,468.40 1014.95,470.26 C 1012.36,471.29 1009.27,470.98 1006.68,472.01" fill="none" stroke="#141414" stroke-width="1.6" />
<path d="M 996.88,466.85 L 1006.68,472.01" fill="none" stroke="#141414" stroke-width="1.5" />
<path d="M 996.15,469.43 L 1005.45,474.59" fill="none" stroke="#141414" stroke-width="1.0" />
<path d="M 1006.68,472.01 C 1005.65,474.08 1006.17,476.66 1007.72,478.72 C 1009.58,481.30 1009.78,483.89 1008.23,486.98 C 1006.68,490.08 1004.62,493.18 1001.73,496.59" fill="none" stroke="#141414" stroke-width="1.6" />
<path d="M 992.74,490.08 L 1003.07,495.55" fill="none" stroke="#141414" stroke-width="1.0" />
<path d="M 991.20,492.66 L 1001.52,498.03 L 1000.70,499.68" fill="none" stroke="#141414" stroke-width="1.5" />
<path d="M 1001.52,498.03 C 1003.07,497.31 1004.10,496.28 1005.14,494.73" fill="none" stroke="#141414" stroke-width="1.3" />
<path d="M 1004.41,500.72 L 1009.58,497.00 C 1010.82,497.83 1011.64,499.89 1012.05,501.96 L 1012.67,505.57 Z" fill="#141414" stroke="none"/>
<path d="M 1009.58,497.00 C 1011.33,498.34 1012.36,501.96 1013.71,506.60" fill="none" stroke="#141414" stroke-width="1.5" />
<path d="M 1024.76,450.33 C 1025.48,452.91 1026.51,456.52 1028.16,459.62 C 1029.61,461.17 1031.67,460.86 1033.53,459.41 L 1039.93,453.94" fill="none" stroke="#141414" stroke-width="1.6" />
<path d="M 1028.89,447.74 C 1027.54,449.29 1026.82,450.84 1026.51,452.39" fill="none" stroke="#141414" stroke-width="1.2" />
<path d="M 1030.43,448.05 C 1031.47,452.39 1030.43,457.04 1028.89,460.14" fill="none" stroke="#141414" stroke-width="1.0" />
<path d="M 1028.37,472.84 C 1030.43,474.08 1030.95,478.21 1028.89,482.34 C 1026.82,485.95 1022.69,488.02 1019.59,487.29 C 1017.22,485.95 1017.22,481.30 1019.59,477.38 C 1021.97,473.87 1025.79,472.01 1028.37,472.84 Z" fill="#141414" stroke="#141414" stroke-width="1.8" />
<ellipse cx="1025.07" cy="482.54" rx="3.92" ry="2.27" transform="rotate(-35 1025.07 482.54)" fill="#fff" stroke="#fff" stroke-width="0.5"/>
<path d="M 1020.62,480.79 C 1022.69,479.24 1026.30,478.72 1029.20,479.76" fill="none" stroke="#fff" stroke-width="1.4" />
<path d="M 1089.03,514.57 C 1087.14,515.83 1085.25,520.25 1085.12,524.66 C 1084.99,529.08 1087.14,532.55 1090.93,533.18 C 1095.34,533.18 1100.39,527.82 1103.23,522.14 C 1105.13,517.72 1105.13,512.67 1103.55,509.83 C 1102.60,508.25 1101.02,507.94 1099.89,508.88 C 1098.63,510.15 1097.99,513.30 1098.63,515.83 C 1099.26,517.41 1100.39,517.09 1100.90,518.98 C 1101.15,521.51 1099.45,524.35 1096.92,525.93 C 1095.66,526.68 1094.59,525.80 1093.77,526.56 C 1093.13,527.50 1092.19,528.45 1090.93,528.32 C 1089.35,527.82 1088.27,525.29 1088.72,522.45 C 1089.16,519.93 1090.93,518.04 1090.80,516.14 C 1090.55,514.88 1089.79,514.25 1089.03,514.57 Z" fill="#fff" stroke="#141414" stroke-width="1.7" />
<path d="M 1103.67,520.25 C 1102.41,524.03 1100.39,527.50 1097.74,530.03" fill="none" stroke="#141414" stroke-width="3.2" />
<path d="M 1086.51,520.25 C 1085.88,524.66 1086.51,529.08 1089.66,531.61" fill="none" stroke="#141414" stroke-width="1.0" />
<path d="M 1095.38,472.58 L 1141.04,497.68 C 1143.40,498.86 1144.07,501.81 1142.98,505.18 C 1141.71,508.55 1138.34,510.82 1134.97,509.98 L 1090.75,483.86 C 1089.06,482.43 1089.06,478.64 1090.75,475.69 C 1092.01,473.59 1093.70,472.32 1095.38,472.58 Z" fill="#fff" stroke="#141414" stroke-width="1.9" />
<path d="M 1090.16,483.02 L 1134.55,509.47" fill="none" stroke="#141414" stroke-width="3.6" />
<ellipse cx="1138.76" cy="503.91" rx="3.79" ry="6.91" transform="rotate(29 1138.76 503.91)" fill="#fff" stroke="#141414" stroke-width="1.6"/>
<path d="M 1098.41,475.52 Q 1097.23,480.41 1094.03,483.44" fill="none" stroke="#141414" stroke-width="1.5" />
<path d="M 1100.77,476.79 Q 1099.59,481.76 1096.39,484.79" fill="none" stroke="#141414" stroke-width="1.5" />
<path d="M 1103.13,478.14 Q 1101.95,483.02 1098.75,486.05" fill="none" stroke="#141414" stroke-width="1.5" />
<path d="M 1105.49,479.40 Q 1104.31,484.37 1101.11,487.40" fill="none" stroke="#141414" stroke-width="1.5" />
<path d="M 1107.85,480.75 Q 1106.67,485.63 1103.47,488.67" fill="none" stroke="#141414" stroke-width="1.5" />
<path d="M 1124.02,489.68 Q 1122.84,494.56 1119.64,497.60" fill="none" stroke="#141414" stroke-width="1.5" />
<path d="M 1126.38,490.94 Q 1125.20,495.91 1122.00,498.94" fill="none" stroke="#141414" stroke-width="1.5" />
<path d="M 1128.74,492.29 Q 1127.56,497.26 1124.36,500.29" fill="none" stroke="#141414" stroke-width="1.5" />
<path d="M 1131.10,493.64 Q 1129.92,498.52 1126.72,501.55" fill="none" stroke="#141414" stroke-width="1.5" />
<path d="M 1133.46,494.90 Q 1132.28,499.87 1129.08,502.90" fill="none" stroke="#141414" stroke-width="1.5" />
<path d="M428.75,678.5 L437.6,560 C437.6,554 440,550.5 444,548.6 L471,548.6 C475,551 476.6,554.5 476.7,558 L484.5,678.5 Z" fill="#fff" stroke="#141414" stroke-width="1.9" />
<path d="M474.6,553 L482.9,678" fill="none" stroke="#141414" stroke-width="3.3" />
<path d="M472.4,562 L478.5,646" fill="none" stroke="#141414" stroke-width="1.1" />
<path d="M 426.50,678.50 L 487.50,678.50 L 487.50,685.00 L 426.50,685.00 Z" fill="#fff" stroke="#141414" stroke-width="1.8" />
<path d="M 431.25,675.50 L 481.25,675.50" fill="none" stroke="#141414" stroke-width="0.9" />
<path d="M 429.00,680.00 L 429.00,684.00 M 431.50,680.00 L 431.50,684.00 M 434.00,680.00 L 434.00,684.00 M 436.50,680.00 L 436.50,684.00 M 439.00,680.00 L 439.00,684.00 M 441.50,680.00 L 441.50,684.00 M 444.00,680.00 L 444.00,684.00 M 446.50,680.00 L 446.50,684.00 M 449.00,680.00 L 449.00,684.00 M 451.50,680.00 L 451.50,684.00 M 454.00,680.00 L 454.00,684.00 M 456.50,680.00 L 456.50,684.00 M 459.00,680.00 L 459.00,684.00 M 461.50,680.00 L 461.50,684.00 M 464.00,680.00 L 464.00,684.00 M 466.50,680.00 L 466.50,684.00 M 469.00,680.00 L 469.00,684.00 M 471.50,680.00 L 471.50,684.00 M 474.00,680.00 L 474.00,684.00 M 476.50,680.00 L 476.50,684.00 M 479.00,680.00 L 479.00,684.00 M 481.50,680.00 L 481.50,684.00 M 484.00,680.00 L 484.00,684.00 M 486.50,680.00 L 486.50,684.00" fill="none" stroke="#141414" stroke-width="1.0" />
<path d="M 439.06,560.54 C 441.17,563.07 443.70,564.59 445.80,565.18" fill="none" stroke="#141414" stroke-width="1.5" />
<path d="M 452.12,566.61 C 458.86,567.45 468.97,564.92 474.44,557.34" fill="none" stroke="#141414" stroke-width="1.5" />
<path d="M 445.38,525.16 L 443.70,553.80 C 447.91,559.87 467.28,559.87 471.07,552.96 L 468.97,525.16 Z" fill="#fff" stroke="#141414" stroke-width="2.1" />
<path d="M 447.74,531.06 L 447.07,557.60" fill="none" stroke="#141414" stroke-width="1.6" />
<path d="M 451.95,531.06 L 451.61,557.60" fill="none" stroke="#141414" stroke-width="1.7" />
<path d="M 456.50,531.06 L 456.50,557.60" fill="none" stroke="#141414" stroke-width="1.7" />
<path d="M 460.96,531.06 L 461.39,557.60" fill="none" stroke="#141414" stroke-width="1.7" />
<path d="M 464.59,531.06 L 465.43,557.60" fill="none" stroke="#141414" stroke-width="1.7" />
<path d="M 467.96,528.11 L 469.39,553.80" fill="none" stroke="#141414" stroke-width="3.8" />
<ellipse cx="457.17" cy="524.74" rx="11.79" ry="5.56" transform="rotate(0 457.17 524.74)" fill="#fff" stroke="#141414" stroke-width="2.1"/>
<ellipse cx="457.17" cy="525.84" rx="8.42" ry="3.88" transform="rotate(0 457.17 525.84)" fill="none" stroke="#141414" stroke-width="1.5"/>
<path d="M 448.92,525.16 C 450.43,522.64 453.80,521.96 455.91,521.96 C 452.96,523.48 452.12,526.85 453.80,529.54 C 451.28,529.21 449.17,527.69 448.92,525.16 Z" fill="#141414" stroke="none"/>
<path d="M 453.80,529.54 L 456.75,526.43 L 459.70,529.54" fill="none" stroke="#141414" stroke-width="1.8" />
<path d="M 462.06,522.64 C 464.76,523.90 465.60,526.43 463.91,528.53" fill="none" stroke="#141414" stroke-width="2.2" />
</g>
<g stroke="#141414" stroke-width="1.8" stroke-linecap="butt">
<line x1="853" y1="53.5" x2="875" y2="66"/>
<line x1="854.5" y1="195" x2="875.3" y2="207"/>
<line x1="605.5" y1="205" x2="622" y2="195.6"/>
<line x1="681.2" y1="255" x2="706.2" y2="241.2"/>
<line x1="761" y1="290" x2="775" y2="282.4"/>
<line x1="791" y1="320" x2="814.5" y2="307"/>
<line x1="653.8" y1="330" x2="676" y2="342.5"/>
<line x1="603.8" y1="358.8" x2="625" y2="370.5"/>
<line x1="566" y1="380.5" x2="588.8" y2="393"/>
<line x1="575.8" y1="448" x2="594.5" y2="458"/>
<line x1="703.8" y1="463.8" x2="725" y2="452"/>
<line x1="835" y1="508.8" x2="856.2" y2="498"/>
<line x1="835" y1="551.2" x2="854.5" y2="540.5"/>
<line x1="836.2" y1="593" x2="856.2" y2="582"/>
<line x1="938.8" y1="485.5" x2="958" y2="475.5"/>
<line x1="981.2" y1="510" x2="997.5" y2="500.8"/>
<line x1="1019.2" y1="532" x2="1040.8" y2="520"/>
<line x1="1050.8" y1="550" x2="1083" y2="532"/>
<line x1="1120.8" y1="482" x2="1147.5" y2="467"/>
<line x1="483.8" y1="591" x2="513.8" y2="574.8"/>
</g>
<text x="878.12" y="80.2">10</text>
<text x="877.45" y="221.4">9</text>
<text x="623.0" y="195.0">5</text>
<text x="707.0" y="241.2">4</text>
<text x="775.25" y="283.0">6</text>
<text x="815.45" y="305.4">11</text>
<text x="639.75" y="328.6">3</text>
<text x="590.0" y="356.4">7</text>
<text x="553.0" y="378.6">7</text>
<text x="597.88" y="472.0">8</text>
<text x="691.75" y="478.6">1</text>
<text x="820.75" y="522.2">2</text>
<text x="809.38" y="565.0">16</text>
<text x="808.75" y="608.6">17</text>
<text x="914.25" y="501.6">12</text>
<text x="956.25" y="524.0">13</text>
<text x="994.0" y="546.6">12</text>
<text x="1026.75" y="565.0">14</text>
<text x="1151.25" y="464.0">15</text>
<text x="515.12" y="573.0">18</text>
<rect x="878.72" y="77.75" width="3.91" height="3.2" fill="#fff"/>
<rect x="885.55" y="77.75" width="3.71" height="3.2" fill="#fff"/>
<rect x="816.05" y="302.95" width="3.91" height="3.2" fill="#fff"/>
<rect x="822.88" y="302.95" width="3.71" height="3.2" fill="#fff"/>
<rect x="827.36" y="302.95" width="3.91" height="3.2" fill="#fff"/>
<rect x="834.19" y="302.95" width="3.71" height="3.2" fill="#fff"/>
<rect x="692.35" y="476.15" width="3.91" height="3.2" fill="#fff"/>
<rect x="699.18" y="476.15" width="3.71" height="3.2" fill="#fff"/>
<rect x="809.98" y="562.55" width="3.91" height="3.2" fill="#fff"/>
<rect x="816.81" y="562.55" width="3.71" height="3.2" fill="#fff"/>
<rect x="809.35" y="606.15" width="3.91" height="3.2" fill="#fff"/>
<rect x="816.18" y="606.15" width="3.71" height="3.2" fill="#fff"/>
<rect x="914.85" y="499.15" width="3.91" height="3.2" fill="#fff"/>
<rect x="921.68" y="499.15" width="3.71" height="3.2" fill="#fff"/>
<rect x="956.85" y="521.55" width="3.91" height="3.2" fill="#fff"/>
<rect x="963.68" y="521.55" width="3.71" height="3.2" fill="#fff"/>
<rect x="994.60" y="544.15" width="3.91" height="3.2" fill="#fff"/>
<rect x="1001.43" y="544.15" width="3.71" height="3.2" fill="#fff"/>
<rect x="1027.35" y="562.55" width="3.91" height="3.2" fill="#fff"/>
<rect x="1034.18" y="562.55" width="3.71" height="3.2" fill="#fff"/>
<rect x="1151.85" y="461.55" width="3.91" height="3.2" fill="#fff"/>
<rect x="1158.68" y="461.55" width="3.71" height="3.2" fill="#fff"/>
<rect x="515.72" y="570.55" width="3.91" height="3.2" fill="#fff"/>
<rect x="522.55" y="570.55" width="3.71" height="3.2" fill="#fff"/>
</svg></body></html>
